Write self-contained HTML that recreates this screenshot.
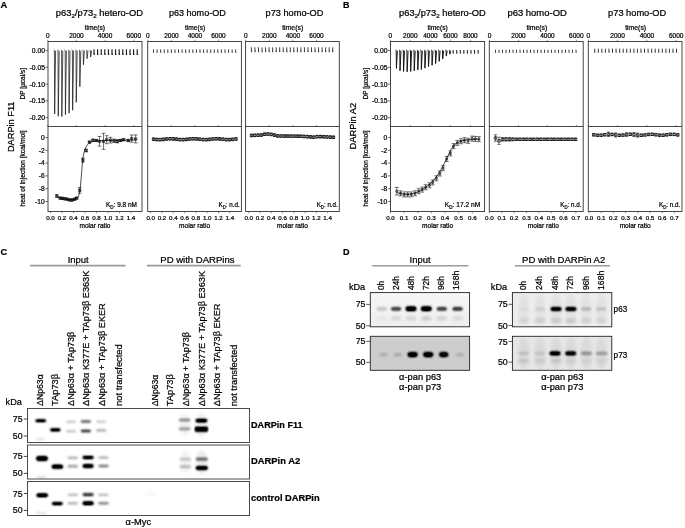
<!DOCTYPE html>
<html><head><meta charset="utf-8"><title>Figure</title>
<style>
html,body{margin:0;padding:0;background:#fff;width:685px;height:528px;overflow:hidden;}
svg{display:block;filter:grayscale(1);font-family:"Liberation Sans", sans-serif;}
text{stroke:#000;stroke-width:0.22px;}
</style></head><body>
<svg width="685" height="528" viewBox="0 0 685 528" font-family='"Liberation Sans", sans-serif'><defs>
<filter id="gall" x="0" y="0" width="100%" height="100%" filterUnits="userSpaceOnUse"><feGaussianBlur stdDeviation="0.0"/></filter>
<filter id="b1" x="-50%" y="-100%" width="200%" height="300%"><feGaussianBlur stdDeviation="0.8"/><feComponentTransfer><feFuncA type="linear" slope="1.45"/></feComponentTransfer></filter>
<filter id="bd" x="-50%" y="-100%" width="200%" height="300%"><feGaussianBlur stdDeviation="1.0 0.8"/><feComponentTransfer><feFuncA type="linear" slope="1.45"/></feComponentTransfer></filter>
<filter id="b2" x="-50%" y="-50%" width="200%" height="200%"><feGaussianBlur stdDeviation="1.6"/></filter>
<linearGradient id="gDin1" x1="0" y1="0" x2="0" y2="1"><stop offset="0" stop-color="#f6f6f6"/><stop offset="1" stop-color="#eeeeee"/></linearGradient>
</defs>
<g><rect x="0" y="0" width="685" height="528" fill="#fff"/>
<text x="0.60" y="7.80" font-size="9.4" font-weight="bold">A</text>
<text x="343.00" y="7.70" font-size="9.0" font-weight="bold">B</text>
<text x="0.60" y="255.00" font-size="9.2" font-weight="bold">C</text>
<text x="343.00" y="254.80" font-size="9.0" font-weight="bold">D</text>
<rect x="48.00" y="41.50" width="94.00" height="170.00" fill="none" stroke="#333" stroke-width="0.9"/>
<line x1="48.00" y1="126.50" x2="142.00" y2="126.50" stroke="#333" stroke-width="0.9"/>
<line x1="47.70" y1="41.50" x2="47.70" y2="39.70" stroke="#444" stroke-width="0.6"/>
<line x1="47.70" y1="126.50" x2="47.70" y2="125.00" stroke="#444" stroke-width="0.6"/>
<text x="47.70" y="38.00" font-size="6.5" text-anchor="middle">0</text>
<line x1="76.40" y1="41.50" x2="76.40" y2="39.70" stroke="#444" stroke-width="0.6"/>
<line x1="76.40" y1="126.50" x2="76.40" y2="125.00" stroke="#444" stroke-width="0.6"/>
<text x="76.40" y="38.00" font-size="6.5" text-anchor="middle">2000</text>
<line x1="105.10" y1="41.50" x2="105.10" y2="39.70" stroke="#444" stroke-width="0.6"/>
<line x1="105.10" y1="126.50" x2="105.10" y2="125.00" stroke="#444" stroke-width="0.6"/>
<text x="105.10" y="38.00" font-size="6.5" text-anchor="middle">4000</text>
<line x1="133.80" y1="41.50" x2="133.80" y2="39.70" stroke="#444" stroke-width="0.6"/>
<line x1="133.80" y1="126.50" x2="133.80" y2="125.00" stroke="#444" stroke-width="0.6"/>
<text x="133.80" y="38.00" font-size="6.5" text-anchor="middle">6000</text>
<text x="84.70" y="30.00" font-size="6.8" textLength="20.40" lengthAdjust="spacingAndGlyphs" stroke="#000" stroke-width="0.06">time(s)</text>
<text x="55.80" y="15.90" font-size="8.4" textLength="87.20" lengthAdjust="spacingAndGlyphs">p63<tspan font-size="5.6" dy="2">2</tspan><tspan dy="-2">/p73</tspan><tspan font-size="5.6" dy="2">2</tspan><tspan dy="-2"> hetero-OD</tspan></text>
<line x1="50.50" y1="211.50" x2="50.50" y2="213.30" stroke="#444" stroke-width="0.6"/>
<text x="50.50" y="220.00" font-size="6.2" text-anchor="middle">0.0</text>
<line x1="62.00" y1="211.50" x2="62.00" y2="213.30" stroke="#444" stroke-width="0.6"/>
<text x="62.00" y="220.00" font-size="6.2" text-anchor="middle">0.2</text>
<line x1="73.50" y1="211.50" x2="73.50" y2="213.30" stroke="#444" stroke-width="0.6"/>
<text x="73.50" y="220.00" font-size="6.2" text-anchor="middle">0.4</text>
<line x1="85.00" y1="211.50" x2="85.00" y2="213.30" stroke="#444" stroke-width="0.6"/>
<text x="85.00" y="220.00" font-size="6.2" text-anchor="middle">0.6</text>
<line x1="96.50" y1="211.50" x2="96.50" y2="213.30" stroke="#444" stroke-width="0.6"/>
<text x="96.50" y="220.00" font-size="6.2" text-anchor="middle">0.8</text>
<line x1="108.00" y1="211.50" x2="108.00" y2="213.30" stroke="#444" stroke-width="0.6"/>
<text x="108.00" y="220.00" font-size="6.2" text-anchor="middle">1.0</text>
<line x1="119.50" y1="211.50" x2="119.50" y2="213.30" stroke="#444" stroke-width="0.6"/>
<text x="119.50" y="220.00" font-size="6.2" text-anchor="middle">1.2</text>
<line x1="131.00" y1="211.50" x2="131.00" y2="213.30" stroke="#444" stroke-width="0.6"/>
<text x="131.00" y="220.00" font-size="6.2" text-anchor="middle">1.4</text>
<text x="95.00" y="227.90" font-size="6.5" textLength="31.00" lengthAdjust="spacingAndGlyphs" text-anchor="middle">molar ratio</text>
<line x1="45.40" y1="50.50" x2="48.00" y2="50.50" stroke="#333" stroke-width="0.7"/>
<text x="45.00" y="52.90" font-size="6.8" text-anchor="end">0.00</text>
<line x1="45.40" y1="67.30" x2="48.00" y2="67.30" stroke="#333" stroke-width="0.7"/>
<text x="45.00" y="69.70" font-size="6.8" text-anchor="end">-0.05</text>
<line x1="45.40" y1="84.10" x2="48.00" y2="84.10" stroke="#333" stroke-width="0.7"/>
<text x="45.00" y="86.50" font-size="6.8" text-anchor="end">-0.10</text>
<line x1="45.40" y1="100.90" x2="48.00" y2="100.90" stroke="#333" stroke-width="0.7"/>
<text x="45.00" y="103.30" font-size="6.8" text-anchor="end">-0.15</text>
<line x1="45.40" y1="117.70" x2="48.00" y2="117.70" stroke="#333" stroke-width="0.7"/>
<text x="45.00" y="120.10" font-size="6.8" text-anchor="end">-0.20</text>
<line x1="45.40" y1="137.50" x2="48.00" y2="137.50" stroke="#333" stroke-width="0.7"/>
<text x="44.60" y="139.80" font-size="6.6" text-anchor="end">0</text>
<line x1="45.40" y1="150.30" x2="48.00" y2="150.30" stroke="#333" stroke-width="0.7"/>
<text x="44.60" y="152.60" font-size="6.6" text-anchor="end">-2</text>
<line x1="45.40" y1="163.10" x2="48.00" y2="163.10" stroke="#333" stroke-width="0.7"/>
<text x="44.60" y="165.40" font-size="6.6" text-anchor="end">-4</text>
<line x1="45.40" y1="175.90" x2="48.00" y2="175.90" stroke="#333" stroke-width="0.7"/>
<text x="44.60" y="178.20" font-size="6.6" text-anchor="end">-6</text>
<line x1="45.40" y1="188.70" x2="48.00" y2="188.70" stroke="#333" stroke-width="0.7"/>
<text x="44.60" y="191.00" font-size="6.6" text-anchor="end">-8</text>
<line x1="45.40" y1="201.50" x2="48.00" y2="201.50" stroke="#333" stroke-width="0.7"/>
<text x="44.60" y="203.80" font-size="6.6" text-anchor="end">-10</text>
<path d="M53.70,49.90 L54.40,50.40 L54.65,114.00 L55.60,50.70 M57.30,49.90 L58.00,50.40 L58.25,116.20 L59.20,50.70 M60.90,49.90 L61.60,50.40 L61.85,116.50 L62.80,50.70 M64.50,49.90 L65.20,50.40 L65.45,114.70 L66.40,50.70 M68.10,49.90 L68.80,50.40 L69.05,113.20 L70.00,50.70 M71.70,49.90 L72.40,50.40 L72.65,110.20 L73.60,50.70 M75.30,49.90 L76.00,50.40 L76.25,102.30 L77.20,50.70 M78.90,49.90 L79.60,50.40 L79.85,86.70 L80.80,50.70 M82.50,49.90 L83.20,50.40 L83.45,64.70 L84.40,50.70 M86.10,49.90 L86.80,50.40 L87.05,58.70 L88.00,50.70 M89.70,49.90 L90.40,50.40 L90.65,57.00 L91.60,50.70" stroke="#1a1a1a" stroke-width="0.75" fill="none" stroke-linejoin="round"/>
<path d="M94.00,49.30 V55.00 M97.60,49.30 V55.00 M101.20,49.30 V55.00 M104.80,49.30 V55.00 M108.40,49.30 V55.00 M112.00,49.30 V55.00 M115.60,49.30 V55.00 M119.20,49.30 V55.00 M122.80,49.30 V55.00 M126.40,49.30 V55.00 M130.00,49.30 V55.00 M133.60,49.30 V55.00 M137.20,49.30 V55.00" stroke="#151515" stroke-width="1.1" fill="none"/>
<path d="M94.00,52.15 L95.10,54.40 L94.00,55.00 Z M97.60,52.15 L98.70,54.40 L97.60,55.00 Z M101.20,52.15 L102.30,54.40 L101.20,55.00 Z M104.80,52.15 L105.90,54.40 L104.80,55.00 Z M108.40,52.15 L109.50,54.40 L108.40,55.00 Z M112.00,52.15 L113.10,54.40 L112.00,55.00 Z M115.60,52.15 L116.70,54.40 L115.60,55.00 Z M119.20,52.15 L120.30,54.40 L119.20,55.00 Z M122.80,52.15 L123.90,54.40 L122.80,55.00 Z M126.40,52.15 L127.50,54.40 L126.40,55.00 Z M130.00,52.15 L131.10,54.40 L130.00,55.00 Z M133.60,52.15 L134.70,54.40 L133.60,55.00 Z M137.20,52.15 L138.30,54.40 L137.20,55.00 Z" stroke="none" stroke-width="0" fill="#151515" opacity="0.7"/>
<path d="M56.90,196.80 L62.00,198.60 L68.00,199.50 L74.00,199.60 L76.50,199.00 L78.50,196.50 L80.00,190.50 L81.20,178.00 L82.30,164.00 L83.40,155.00 L84.80,149.50 L86.50,146.00 L88.50,143.50 L91.00,142.00 L95.00,141.00 L100.00,140.60 L110.00,140.40 L136.00,140.10" stroke="#000" stroke-width="0.7" fill="none"/>
<path d="M55.80,194.90 h2.20 v2.20 h-2.20 Z M55.80,194.90 L58.00,197.10 M59.00,197.00 h2.20 v2.20 h-2.20 Z M59.00,197.00 L61.20,199.20 M61.40,197.30 h2.20 v2.20 h-2.20 Z M61.40,197.30 L63.60,199.50 M63.80,197.70 h2.20 v2.20 h-2.20 Z M63.80,197.70 L66.00,199.90 M66.20,198.10 h2.20 v2.20 h-2.20 Z M66.20,198.10 L68.40,200.30 M68.60,198.90 h2.20 v2.20 h-2.20 Z M68.60,198.90 L70.80,201.10 M71.00,198.90 h2.20 v2.20 h-2.20 Z M71.00,198.90 L73.20,201.10 M73.50,198.10 h2.20 v2.20 h-2.20 Z M73.50,198.10 L75.70,200.30 M75.50,197.00 h2.20 v2.20 h-2.20 Z M75.50,197.00 L77.70,199.20 M78.60,189.30 h2.20 v2.20 h-2.20 Z M78.60,189.30 L80.80,191.50 M81.80,159.00 h2.20 v2.20 h-2.20 Z M81.80,159.00 L84.00,161.20 M85.00,149.40 h2.20 v2.20 h-2.20 Z M85.00,149.40 L87.20,151.60 M88.40,141.00 h2.20 v2.20 h-2.20 Z M88.40,141.00 L90.60,143.20 M91.90,139.10 h2.20 v2.20 h-2.20 Z M91.90,139.10 L94.10,141.30 M95.20,139.40 h2.20 v2.20 h-2.20 Z M95.20,139.40 L97.40,141.60 M98.40,140.20 h2.20 v2.20 h-2.20 Z M98.40,140.20 L100.60,142.40 M102.40,140.20 h2.20 v2.20 h-2.20 Z M102.40,140.20 L104.60,142.40 M105.60,138.60 h2.20 v2.20 h-2.20 Z M105.60,138.60 L107.80,140.80 M109.30,139.10 h2.20 v2.20 h-2.20 Z M109.30,139.10 L111.50,141.30 M112.90,139.70 h2.20 v2.20 h-2.20 Z M112.90,139.70 L115.10,141.90 M116.10,140.20 h2.20 v2.20 h-2.20 Z M116.10,140.20 L118.30,142.40 M119.30,139.40 h2.20 v2.20 h-2.20 Z M119.30,139.40 L121.50,141.60 M122.50,138.60 h2.20 v2.20 h-2.20 Z M122.50,138.60 L124.70,140.80 M127.10,139.40 h2.20 v2.20 h-2.20 Z M127.10,139.40 L129.30,141.60 M130.60,137.50 h2.20 v2.20 h-2.20 Z M130.60,137.50 L132.80,139.70 M134.60,137.80 h2.20 v2.20 h-2.20 Z M134.60,137.80 L136.80,140.00" stroke="#111" stroke-width="0.7" fill="none"/>
<path d="M56.90,194.70 V197.30 M55.00,194.70 h3.80 M55.00,197.30 h3.80 M60.10,197.10 V199.10 M58.20,197.10 h3.80 M58.20,199.10 h3.80 M62.50,197.40 V199.40 M60.60,197.40 h3.80 M60.60,199.40 h3.80 M64.90,197.80 V199.80 M63.00,197.80 h3.80 M63.00,199.80 h3.80 M67.30,198.20 V200.20 M65.40,198.20 h3.80 M65.40,200.20 h3.80 M69.70,199.00 V201.00 M67.80,199.00 h3.80 M67.80,201.00 h3.80 M72.10,199.00 V201.00 M70.20,199.00 h3.80 M70.20,201.00 h3.80 M74.60,198.20 V200.20 M72.70,198.20 h3.80 M72.70,200.20 h3.80 M76.60,197.10 V199.10 M74.70,197.10 h3.80 M74.70,199.10 h3.80 M79.70,187.60 V193.20 M77.80,187.60 h3.80 M77.80,193.20 h3.80 M82.90,158.10 V162.10 M81.00,158.10 h3.80 M81.00,162.10 h3.80 M86.10,149.20 V151.80 M84.20,149.20 h3.80 M84.20,151.80 h3.80 M89.50,141.10 V143.10 M87.60,141.10 h3.80 M87.60,143.10 h3.80 M93.00,139.20 V141.20 M91.10,139.20 h3.80 M91.10,141.20 h3.80 M96.30,139.50 V141.50 M94.40,139.50 h3.80 M94.40,141.50 h3.80 M99.50,136.50 V146.10 M97.60,136.50 h3.80 M97.60,146.10 h3.80 M103.50,133.30 V149.30 M101.60,133.30 h3.80 M101.60,149.30 h3.80 M106.70,135.70 V143.70 M104.80,135.70 h3.80 M104.80,143.70 h3.80 M110.40,137.40 V143.00 M108.50,137.40 h3.80 M108.50,143.00 h3.80 M114.00,139.20 V142.40 M112.10,139.20 h3.80 M112.10,142.40 h3.80 M117.20,139.70 V142.90 M115.30,139.70 h3.80 M115.30,142.90 h3.80 M120.40,139.50 V141.50 M118.50,139.50 h3.80 M118.50,141.50 h3.80 M123.60,138.70 V140.70 M121.70,138.70 h3.80 M121.70,140.70 h3.80 M128.20,139.50 V141.50 M126.30,139.50 h3.80 M126.30,141.50 h3.80 M131.70,135.00 V142.20 M129.80,135.00 h3.80 M129.80,142.20 h3.80 M135.70,134.90 V142.90 M133.80,134.90 h3.80 M133.80,142.90 h3.80" stroke="#000" stroke-width="0.55" fill="none"/>
<text x="106.00" y="207.00" font-size="6.6" textLength="31.00" lengthAdjust="spacingAndGlyphs">K<tspan font-size="4.6" dy="1.6">D</tspan><tspan dy="-1.6">: 9.8 nM</tspan></text>
<rect x="147.70" y="41.50" width="93.70" height="170.00" fill="none" stroke="#333" stroke-width="0.9"/>
<line x1="147.70" y1="126.50" x2="241.40" y2="126.50" stroke="#333" stroke-width="0.9"/>
<line x1="147.90" y1="41.50" x2="147.90" y2="39.70" stroke="#444" stroke-width="0.6"/>
<line x1="147.90" y1="126.50" x2="147.90" y2="125.00" stroke="#444" stroke-width="0.6"/>
<text x="147.90" y="38.00" font-size="6.5" text-anchor="middle">0</text>
<line x1="171.40" y1="41.50" x2="171.40" y2="39.70" stroke="#444" stroke-width="0.6"/>
<line x1="171.40" y1="126.50" x2="171.40" y2="125.00" stroke="#444" stroke-width="0.6"/>
<text x="171.40" y="38.00" font-size="6.5" text-anchor="middle">2000</text>
<line x1="194.90" y1="41.50" x2="194.90" y2="39.70" stroke="#444" stroke-width="0.6"/>
<line x1="194.90" y1="126.50" x2="194.90" y2="125.00" stroke="#444" stroke-width="0.6"/>
<text x="194.90" y="38.00" font-size="6.5" text-anchor="middle">4000</text>
<line x1="218.40" y1="41.50" x2="218.40" y2="39.70" stroke="#444" stroke-width="0.6"/>
<line x1="218.40" y1="126.50" x2="218.40" y2="125.00" stroke="#444" stroke-width="0.6"/>
<text x="218.40" y="38.00" font-size="6.5" text-anchor="middle">6000</text>
<text x="185.00" y="30.00" font-size="6.8" textLength="20.20" lengthAdjust="spacingAndGlyphs" stroke="#000" stroke-width="0.06">time(s)</text>
<text x="169.00" y="15.90" font-size="8.4" textLength="56.70" lengthAdjust="spacingAndGlyphs">p63 homo-OD</text>
<line x1="150.70" y1="211.50" x2="150.70" y2="213.30" stroke="#444" stroke-width="0.6"/>
<text x="150.70" y="220.00" font-size="6.2" text-anchor="middle">0.0</text>
<line x1="162.00" y1="211.50" x2="162.00" y2="213.30" stroke="#444" stroke-width="0.6"/>
<text x="162.00" y="220.00" font-size="6.2" text-anchor="middle">0.2</text>
<line x1="173.30" y1="211.50" x2="173.30" y2="213.30" stroke="#444" stroke-width="0.6"/>
<text x="173.30" y="220.00" font-size="6.2" text-anchor="middle">0.4</text>
<line x1="184.60" y1="211.50" x2="184.60" y2="213.30" stroke="#444" stroke-width="0.6"/>
<text x="184.60" y="220.00" font-size="6.2" text-anchor="middle">0.6</text>
<line x1="195.90" y1="211.50" x2="195.90" y2="213.30" stroke="#444" stroke-width="0.6"/>
<text x="195.90" y="220.00" font-size="6.2" text-anchor="middle">0.8</text>
<line x1="207.20" y1="211.50" x2="207.20" y2="213.30" stroke="#444" stroke-width="0.6"/>
<text x="207.20" y="220.00" font-size="6.2" text-anchor="middle">1.0</text>
<line x1="218.50" y1="211.50" x2="218.50" y2="213.30" stroke="#444" stroke-width="0.6"/>
<text x="218.50" y="220.00" font-size="6.2" text-anchor="middle">1.2</text>
<line x1="229.80" y1="211.50" x2="229.80" y2="213.30" stroke="#444" stroke-width="0.6"/>
<text x="229.80" y="220.00" font-size="6.2" text-anchor="middle">1.4</text>
<text x="194.55" y="227.90" font-size="6.5" textLength="31.00" lengthAdjust="spacingAndGlyphs" text-anchor="middle">molar ratio</text>
<path d="M153.50,49.40 V52.80 M157.07,49.40 V52.80 M160.65,49.40 V52.80 M164.22,49.40 V52.80 M167.80,49.40 V52.80 M171.37,49.40 V52.80 M174.94,49.40 V52.80 M178.52,49.40 V52.80 M182.09,49.40 V52.80 M185.67,49.40 V52.80 M189.24,49.40 V52.80 M192.81,49.40 V52.80 M196.39,49.40 V52.80 M199.96,49.40 V52.80 M203.54,49.40 V52.80 M207.11,49.40 V52.80 M210.68,49.40 V52.80 M214.26,49.40 V52.80 M217.83,49.40 V52.80 M221.41,49.40 V52.80 M224.98,49.40 V52.80 M228.55,49.40 V52.80 M232.13,49.40 V52.80 M235.70,49.40 V52.80" stroke="#2a2a2a" stroke-width="0.9" fill="none"/>
<path d="M153.50,51.10 L154.20,52.20 L153.50,52.80 Z M157.07,51.10 L157.77,52.20 L157.07,52.80 Z M160.65,51.10 L161.35,52.20 L160.65,52.80 Z M164.22,51.10 L164.92,52.20 L164.22,52.80 Z M167.80,51.10 L168.50,52.20 L167.80,52.80 Z M171.37,51.10 L172.07,52.20 L171.37,52.80 Z M174.94,51.10 L175.64,52.20 L174.94,52.80 Z M178.52,51.10 L179.22,52.20 L178.52,52.80 Z M182.09,51.10 L182.79,52.20 L182.09,52.80 Z M185.67,51.10 L186.37,52.20 L185.67,52.80 Z M189.24,51.10 L189.94,52.20 L189.24,52.80 Z M192.81,51.10 L193.51,52.20 L192.81,52.80 Z M196.39,51.10 L197.09,52.20 L196.39,52.80 Z M199.96,51.10 L200.66,52.20 L199.96,52.80 Z M203.54,51.10 L204.24,52.20 L203.54,52.80 Z M207.11,51.10 L207.81,52.20 L207.11,52.80 Z M210.68,51.10 L211.38,52.20 L210.68,52.80 Z M214.26,51.10 L214.96,52.20 L214.26,52.80 Z M217.83,51.10 L218.53,52.20 L217.83,52.80 Z M221.41,51.10 L222.11,52.20 L221.41,52.80 Z M224.98,51.10 L225.68,52.20 L224.98,52.80 Z M228.55,51.10 L229.25,52.20 L228.55,52.80 Z M232.13,51.10 L232.83,52.20 L232.13,52.80 Z M235.70,51.10 L236.40,52.20 L235.70,52.80 Z" stroke="none" stroke-width="0" fill="#2a2a2a" opacity="0.7"/>
<path d="M152.30,138.00 h2.40 v2.40 h-2.40 Z M155.60,138.35 h2.40 v2.40 h-2.40 Z M158.90,138.44 h2.40 v2.40 h-2.40 Z M162.20,138.19 h2.40 v2.40 h-2.40 Z M165.50,137.80 h2.40 v2.40 h-2.40 Z M168.80,137.56 h2.40 v2.40 h-2.40 Z M172.10,137.65 h2.40 v2.40 h-2.40 Z M175.40,138.01 h2.40 v2.40 h-2.40 Z M178.70,138.36 h2.40 v2.40 h-2.40 Z M182.00,138.44 h2.40 v2.40 h-2.40 Z M185.30,138.19 h2.40 v2.40 h-2.40 Z M188.60,137.79 h2.40 v2.40 h-2.40 Z M191.90,137.56 h2.40 v2.40 h-2.40 Z M195.20,137.66 h2.40 v2.40 h-2.40 Z M198.50,138.02 h2.40 v2.40 h-2.40 Z M201.80,138.36 h2.40 v2.40 h-2.40 Z M205.10,138.43 h2.40 v2.40 h-2.40 Z M208.40,138.18 h2.40 v2.40 h-2.40 Z M211.70,137.79 h2.40 v2.40 h-2.40 Z M215.00,137.56 h2.40 v2.40 h-2.40 Z M218.30,137.66 h2.40 v2.40 h-2.40 Z M221.60,138.02 h2.40 v2.40 h-2.40 Z M224.90,138.37 h2.40 v2.40 h-2.40 Z M228.20,138.43 h2.40 v2.40 h-2.40 Z M231.50,138.17 h2.40 v2.40 h-2.40 Z M234.80,137.78 h2.40 v2.40 h-2.40 Z" stroke="#111" stroke-width="0.85" fill="none"/>
<path d="M153.50,137.90 V140.50 M152.00,137.90 h3.00 M152.00,140.50 h3.00 M156.80,138.25 V140.85 M155.30,138.25 h3.00 M155.30,140.85 h3.00 M160.10,138.34 V140.94 M158.60,138.34 h3.00 M158.60,140.94 h3.00 M163.40,138.09 V140.69 M161.90,138.09 h3.00 M161.90,140.69 h3.00 M166.70,137.70 V140.30 M165.20,137.70 h3.00 M165.20,140.30 h3.00 M170.00,137.46 V140.06 M168.50,137.46 h3.00 M168.50,140.06 h3.00 M173.30,137.55 V140.15 M171.80,137.55 h3.00 M171.80,140.15 h3.00 M176.60,137.91 V140.51 M175.10,137.91 h3.00 M175.10,140.51 h3.00 M179.90,138.26 V140.86 M178.40,138.26 h3.00 M178.40,140.86 h3.00 M183.20,138.34 V140.94 M181.70,138.34 h3.00 M181.70,140.94 h3.00 M186.50,138.09 V140.69 M185.00,138.09 h3.00 M185.00,140.69 h3.00 M189.80,137.69 V140.29 M188.30,137.69 h3.00 M188.30,140.29 h3.00 M193.10,137.46 V140.06 M191.60,137.46 h3.00 M191.60,140.06 h3.00 M196.40,137.56 V140.16 M194.90,137.56 h3.00 M194.90,140.16 h3.00 M199.70,137.92 V140.52 M198.20,137.92 h3.00 M198.20,140.52 h3.00 M203.00,138.26 V140.86 M201.50,138.26 h3.00 M201.50,140.86 h3.00 M206.30,138.33 V140.93 M204.80,138.33 h3.00 M204.80,140.93 h3.00 M209.60,138.08 V140.68 M208.10,138.08 h3.00 M208.10,140.68 h3.00 M212.90,137.69 V140.29 M211.40,137.69 h3.00 M211.40,140.29 h3.00 M216.20,137.46 V140.06 M214.70,137.46 h3.00 M214.70,140.06 h3.00 M219.50,137.56 V140.16 M218.00,137.56 h3.00 M218.00,140.16 h3.00 M222.80,137.92 V140.52 M221.30,137.92 h3.00 M221.30,140.52 h3.00 M226.10,138.27 V140.87 M224.60,138.27 h3.00 M224.60,140.87 h3.00 M229.40,138.33 V140.93 M227.90,138.33 h3.00 M227.90,140.93 h3.00 M232.70,138.07 V140.67 M231.20,138.07 h3.00 M231.20,140.67 h3.00 M236.00,137.68 V140.28 M234.50,137.68 h3.00 M234.50,140.28 h3.00" stroke="#000" stroke-width="0.55" fill="none"/>
<text x="218.50" y="207.00" font-size="6.6" textLength="21.20" lengthAdjust="spacingAndGlyphs">K<tspan font-size="4.6" dy="1.6">D</tspan><tspan dy="-1.6">: n.d.</tspan></text>
<rect x="245.60" y="41.50" width="93.70" height="170.00" fill="none" stroke="#333" stroke-width="0.9"/>
<line x1="245.60" y1="126.50" x2="339.30" y2="126.50" stroke="#333" stroke-width="0.9"/>
<line x1="245.70" y1="41.50" x2="245.70" y2="39.70" stroke="#444" stroke-width="0.6"/>
<line x1="245.70" y1="126.50" x2="245.70" y2="125.00" stroke="#444" stroke-width="0.6"/>
<text x="245.70" y="38.00" font-size="6.5" text-anchor="middle">0</text>
<line x1="269.30" y1="41.50" x2="269.30" y2="39.70" stroke="#444" stroke-width="0.6"/>
<line x1="269.30" y1="126.50" x2="269.30" y2="125.00" stroke="#444" stroke-width="0.6"/>
<text x="269.30" y="38.00" font-size="6.5" text-anchor="middle">2000</text>
<line x1="292.90" y1="41.50" x2="292.90" y2="39.70" stroke="#444" stroke-width="0.6"/>
<line x1="292.90" y1="126.50" x2="292.90" y2="125.00" stroke="#444" stroke-width="0.6"/>
<text x="292.90" y="38.00" font-size="6.5" text-anchor="middle">4000</text>
<line x1="316.50" y1="41.50" x2="316.50" y2="39.70" stroke="#444" stroke-width="0.6"/>
<line x1="316.50" y1="126.50" x2="316.50" y2="125.00" stroke="#444" stroke-width="0.6"/>
<text x="316.50" y="38.00" font-size="6.5" text-anchor="middle">6000</text>
<text x="282.20" y="30.00" font-size="6.8" textLength="21.00" lengthAdjust="spacingAndGlyphs" stroke="#000" stroke-width="0.06">time(s)</text>
<text x="265.60" y="15.90" font-size="8.4" textLength="57.80" lengthAdjust="spacingAndGlyphs">p73 homo-OD</text>
<line x1="248.70" y1="211.50" x2="248.70" y2="213.30" stroke="#444" stroke-width="0.6"/>
<text x="248.70" y="220.00" font-size="6.2" text-anchor="middle">0.0</text>
<line x1="259.98" y1="211.50" x2="259.98" y2="213.30" stroke="#444" stroke-width="0.6"/>
<text x="259.98" y="220.00" font-size="6.2" text-anchor="middle">0.2</text>
<line x1="271.26" y1="211.50" x2="271.26" y2="213.30" stroke="#444" stroke-width="0.6"/>
<text x="271.26" y="220.00" font-size="6.2" text-anchor="middle">0.4</text>
<line x1="282.54" y1="211.50" x2="282.54" y2="213.30" stroke="#444" stroke-width="0.6"/>
<text x="282.54" y="220.00" font-size="6.2" text-anchor="middle">0.6</text>
<line x1="293.82" y1="211.50" x2="293.82" y2="213.30" stroke="#444" stroke-width="0.6"/>
<text x="293.82" y="220.00" font-size="6.2" text-anchor="middle">0.8</text>
<line x1="305.10" y1="211.50" x2="305.10" y2="213.30" stroke="#444" stroke-width="0.6"/>
<text x="305.10" y="220.00" font-size="6.2" text-anchor="middle">1.0</text>
<line x1="316.38" y1="211.50" x2="316.38" y2="213.30" stroke="#444" stroke-width="0.6"/>
<text x="316.38" y="220.00" font-size="6.2" text-anchor="middle">1.2</text>
<line x1="327.66" y1="211.50" x2="327.66" y2="213.30" stroke="#444" stroke-width="0.6"/>
<text x="327.66" y="220.00" font-size="6.2" text-anchor="middle">1.4</text>
<text x="292.45" y="227.90" font-size="6.5" textLength="31.00" lengthAdjust="spacingAndGlyphs" text-anchor="middle">molar ratio</text>
<path d="M251.40,47.30 V52.20 M254.94,47.30 V52.20 M258.47,47.30 V52.20 M262.00,47.30 V52.20 M265.54,47.30 V52.20 M269.07,47.30 V52.20 M272.61,47.30 V52.20 M276.14,47.30 V52.20 M279.68,47.30 V52.20 M283.22,47.30 V52.20 M286.75,47.30 V52.20 M290.29,47.30 V52.20 M293.82,47.30 V52.20 M297.36,47.30 V52.20 M300.89,47.30 V52.20 M304.43,47.30 V52.20 M307.96,47.30 V52.20 M311.50,47.30 V52.20 M315.03,47.30 V52.20 M318.56,47.30 V52.20 M322.10,47.30 V52.20 M325.63,47.30 V52.20 M329.17,47.30 V52.20 M332.71,47.30 V52.20" stroke="#2a2a2a" stroke-width="0.9" fill="none"/>
<path d="M251.40,49.75 L252.30,51.60 L251.40,52.20 Z M254.94,49.75 L255.84,51.60 L254.94,52.20 Z M258.47,49.75 L259.37,51.60 L258.47,52.20 Z M262.00,49.75 L262.90,51.60 L262.00,52.20 Z M265.54,49.75 L266.44,51.60 L265.54,52.20 Z M269.07,49.75 L269.97,51.60 L269.07,52.20 Z M272.61,49.75 L273.51,51.60 L272.61,52.20 Z M276.14,49.75 L277.04,51.60 L276.14,52.20 Z M279.68,49.75 L280.58,51.60 L279.68,52.20 Z M283.22,49.75 L284.12,51.60 L283.22,52.20 Z M286.75,49.75 L287.65,51.60 L286.75,52.20 Z M290.29,49.75 L291.19,51.60 L290.29,52.20 Z M293.82,49.75 L294.72,51.60 L293.82,52.20 Z M297.36,49.75 L298.25,51.60 L297.36,52.20 Z M300.89,49.75 L301.79,51.60 L300.89,52.20 Z M304.43,49.75 L305.32,51.60 L304.43,52.20 Z M307.96,49.75 L308.86,51.60 L307.96,52.20 Z M311.50,49.75 L312.39,51.60 L311.50,52.20 Z M315.03,49.75 L315.93,51.60 L315.03,52.20 Z M318.56,49.75 L319.46,51.60 L318.56,52.20 Z M322.10,49.75 L323.00,51.60 L322.10,52.20 Z M325.63,49.75 L326.53,51.60 L325.63,52.20 Z M329.17,49.75 L330.07,51.60 L329.17,52.20 Z M332.71,49.75 L333.61,51.60 L332.71,52.20 Z" stroke="none" stroke-width="0" fill="#2a2a2a" opacity="0.7"/>
<path d="M250.30,134.28 h2.40 v2.40 h-2.40 Z M253.58,134.13 h2.40 v2.40 h-2.40 Z M256.86,133.98 h2.40 v2.40 h-2.40 Z M260.14,133.83 h2.40 v2.40 h-2.40 Z M263.42,133.01 h2.40 v2.40 h-2.40 Z M266.70,132.82 h2.40 v2.40 h-2.40 Z M269.98,133.20 h2.40 v2.40 h-2.40 Z M273.26,133.92 h2.40 v2.40 h-2.40 Z M276.54,134.74 h2.40 v2.40 h-2.40 Z M279.82,134.83 h2.40 v2.40 h-2.40 Z M283.10,134.86 h2.40 v2.40 h-2.40 Z M286.38,134.89 h2.40 v2.40 h-2.40 Z M289.66,134.92 h2.40 v2.40 h-2.40 Z M292.94,134.95 h2.40 v2.40 h-2.40 Z M296.22,134.98 h2.40 v2.40 h-2.40 Z M299.50,135.04 h2.40 v2.40 h-2.40 Z M302.78,135.24 h2.40 v2.40 h-2.40 Z M306.06,135.44 h2.40 v2.40 h-2.40 Z M309.34,135.69 h2.40 v2.40 h-2.40 Z M312.62,135.97 h2.40 v2.40 h-2.40 Z M315.90,135.44 h2.40 v2.40 h-2.40 Z M319.18,135.40 h2.40 v2.40 h-2.40 Z M322.46,135.54 h2.40 v2.40 h-2.40 Z M325.74,135.72 h2.40 v2.40 h-2.40 Z M329.02,135.93 h2.40 v2.40 h-2.40 Z M332.30,136.10 h2.40 v2.40 h-2.40 Z" stroke="#111" stroke-width="0.85" fill="none"/>
<path d="M251.50,134.18 V136.78 M250.00,134.18 h3.00 M250.00,136.78 h3.00 M254.78,134.03 V136.63 M253.28,134.03 h3.00 M253.28,136.63 h3.00 M258.06,133.88 V136.48 M256.56,133.88 h3.00 M256.56,136.48 h3.00 M261.34,133.73 V136.33 M259.84,133.73 h3.00 M259.84,136.33 h3.00 M264.62,132.91 V135.51 M263.12,132.91 h3.00 M263.12,135.51 h3.00 M267.90,132.72 V135.32 M266.40,132.72 h3.00 M266.40,135.32 h3.00 M271.18,133.10 V135.70 M269.68,133.10 h3.00 M269.68,135.70 h3.00 M274.46,133.81 V136.42 M272.96,133.81 h3.00 M272.96,136.42 h3.00 M277.74,134.63 V137.24 M276.24,134.63 h3.00 M276.24,137.24 h3.00 M281.02,134.73 V137.33 M279.52,134.73 h3.00 M279.52,137.33 h3.00 M284.30,134.76 V137.36 M282.80,134.76 h3.00 M282.80,137.36 h3.00 M287.58,134.79 V137.39 M286.08,134.79 h3.00 M286.08,137.39 h3.00 M290.86,134.82 V137.42 M289.36,134.82 h3.00 M289.36,137.42 h3.00 M294.14,134.85 V137.45 M292.64,134.85 h3.00 M292.64,137.45 h3.00 M297.42,134.88 V137.48 M295.92,134.88 h3.00 M295.92,137.48 h3.00 M300.70,134.94 V137.54 M299.20,134.94 h3.00 M299.20,137.54 h3.00 M303.98,135.14 V137.74 M302.48,135.14 h3.00 M302.48,137.74 h3.00 M307.26,135.34 V137.94 M305.76,135.34 h3.00 M305.76,137.94 h3.00 M310.54,135.59 V138.19 M309.04,135.59 h3.00 M309.04,138.19 h3.00 M313.82,135.87 V138.47 M312.32,135.87 h3.00 M312.32,138.47 h3.00 M317.10,135.34 V137.94 M315.60,135.34 h3.00 M315.60,137.94 h3.00 M320.38,135.30 V137.90 M318.88,135.30 h3.00 M318.88,137.90 h3.00 M323.66,135.44 V138.04 M322.16,135.44 h3.00 M322.16,138.04 h3.00 M326.94,135.62 V138.22 M325.44,135.62 h3.00 M325.44,138.22 h3.00 M330.22,135.83 V138.43 M328.72,135.83 h3.00 M328.72,138.43 h3.00 M333.50,136.00 V138.60 M332.00,136.00 h3.00 M332.00,138.60 h3.00" stroke="#000" stroke-width="0.55" fill="none"/>
<text x="316.70" y="207.00" font-size="6.6" textLength="21.10" lengthAdjust="spacingAndGlyphs">K<tspan font-size="4.6" dy="1.6">D</tspan><tspan dy="-1.6">: n.d.</tspan></text>
<rect x="390.50" y="41.50" width="94.10" height="170.00" fill="none" stroke="#333" stroke-width="0.9"/>
<line x1="390.50" y1="126.50" x2="484.60" y2="126.50" stroke="#333" stroke-width="0.9"/>
<line x1="390.30" y1="41.50" x2="390.30" y2="39.70" stroke="#444" stroke-width="0.6"/>
<line x1="390.30" y1="126.50" x2="390.30" y2="125.00" stroke="#444" stroke-width="0.6"/>
<text x="390.30" y="38.00" font-size="6.5" text-anchor="middle">0</text>
<line x1="410.35" y1="41.50" x2="410.35" y2="39.70" stroke="#444" stroke-width="0.6"/>
<line x1="410.35" y1="126.50" x2="410.35" y2="125.00" stroke="#444" stroke-width="0.6"/>
<text x="410.35" y="38.00" font-size="6.5" text-anchor="middle">2000</text>
<line x1="430.40" y1="41.50" x2="430.40" y2="39.70" stroke="#444" stroke-width="0.6"/>
<line x1="430.40" y1="126.50" x2="430.40" y2="125.00" stroke="#444" stroke-width="0.6"/>
<text x="430.40" y="38.00" font-size="6.5" text-anchor="middle">4000</text>
<line x1="450.45" y1="41.50" x2="450.45" y2="39.70" stroke="#444" stroke-width="0.6"/>
<line x1="450.45" y1="126.50" x2="450.45" y2="125.00" stroke="#444" stroke-width="0.6"/>
<text x="450.45" y="38.00" font-size="6.5" text-anchor="middle">6000</text>
<line x1="470.50" y1="41.50" x2="470.50" y2="39.70" stroke="#444" stroke-width="0.6"/>
<line x1="470.50" y1="126.50" x2="470.50" y2="125.00" stroke="#444" stroke-width="0.6"/>
<text x="470.50" y="38.00" font-size="6.5" text-anchor="middle">8000</text>
<text x="427.50" y="30.00" font-size="6.8" textLength="20.20" lengthAdjust="spacingAndGlyphs" stroke="#000" stroke-width="0.06">time(s)</text>
<text x="399.10" y="15.90" font-size="8.4" textLength="86.70" lengthAdjust="spacingAndGlyphs">p63<tspan font-size="5.6" dy="2">2</tspan><tspan dy="-2">/p73</tspan><tspan font-size="5.6" dy="2">2</tspan><tspan dy="-2"> hetero-OD</tspan></text>
<line x1="390.50" y1="211.50" x2="390.50" y2="213.30" stroke="#444" stroke-width="0.6"/>
<text x="390.50" y="220.00" font-size="6.2" text-anchor="middle">0.0</text>
<line x1="404.13" y1="211.50" x2="404.13" y2="213.30" stroke="#444" stroke-width="0.6"/>
<text x="404.13" y="220.00" font-size="6.2" text-anchor="middle">0.1</text>
<line x1="417.76" y1="211.50" x2="417.76" y2="213.30" stroke="#444" stroke-width="0.6"/>
<text x="417.76" y="220.00" font-size="6.2" text-anchor="middle">0.2</text>
<line x1="431.39" y1="211.50" x2="431.39" y2="213.30" stroke="#444" stroke-width="0.6"/>
<text x="431.39" y="220.00" font-size="6.2" text-anchor="middle">0.3</text>
<line x1="445.02" y1="211.50" x2="445.02" y2="213.30" stroke="#444" stroke-width="0.6"/>
<text x="445.02" y="220.00" font-size="6.2" text-anchor="middle">0.4</text>
<line x1="458.65" y1="211.50" x2="458.65" y2="213.30" stroke="#444" stroke-width="0.6"/>
<text x="458.65" y="220.00" font-size="6.2" text-anchor="middle">0.5</text>
<line x1="472.28" y1="211.50" x2="472.28" y2="213.30" stroke="#444" stroke-width="0.6"/>
<text x="472.28" y="220.00" font-size="6.2" text-anchor="middle">0.6</text>
<text x="437.55" y="227.90" font-size="6.5" textLength="31.00" lengthAdjust="spacingAndGlyphs" text-anchor="middle">molar ratio</text>
<line x1="387.90" y1="50.50" x2="390.50" y2="50.50" stroke="#333" stroke-width="0.7"/>
<text x="387.50" y="52.90" font-size="6.8" text-anchor="end">0.00</text>
<line x1="387.90" y1="67.30" x2="390.50" y2="67.30" stroke="#333" stroke-width="0.7"/>
<text x="387.50" y="69.70" font-size="6.8" text-anchor="end">-0.05</text>
<line x1="387.90" y1="84.10" x2="390.50" y2="84.10" stroke="#333" stroke-width="0.7"/>
<text x="387.50" y="86.50" font-size="6.8" text-anchor="end">-0.10</text>
<line x1="387.90" y1="100.90" x2="390.50" y2="100.90" stroke="#333" stroke-width="0.7"/>
<text x="387.50" y="103.30" font-size="6.8" text-anchor="end">-0.15</text>
<line x1="387.90" y1="117.70" x2="390.50" y2="117.70" stroke="#333" stroke-width="0.7"/>
<text x="387.50" y="120.10" font-size="6.8" text-anchor="end">-0.20</text>
<line x1="387.90" y1="137.50" x2="390.50" y2="137.50" stroke="#333" stroke-width="0.7"/>
<text x="387.10" y="139.80" font-size="6.6" text-anchor="end">0</text>
<line x1="387.90" y1="150.30" x2="390.50" y2="150.30" stroke="#333" stroke-width="0.7"/>
<text x="387.10" y="152.60" font-size="6.6" text-anchor="end">-2</text>
<line x1="387.90" y1="163.10" x2="390.50" y2="163.10" stroke="#333" stroke-width="0.7"/>
<text x="387.10" y="165.40" font-size="6.6" text-anchor="end">-4</text>
<line x1="387.90" y1="175.90" x2="390.50" y2="175.90" stroke="#333" stroke-width="0.7"/>
<text x="387.10" y="178.20" font-size="6.6" text-anchor="end">-6</text>
<line x1="387.90" y1="188.70" x2="390.50" y2="188.70" stroke="#333" stroke-width="0.7"/>
<text x="387.10" y="191.00" font-size="6.6" text-anchor="end">-8</text>
<line x1="387.90" y1="201.50" x2="390.50" y2="201.50" stroke="#333" stroke-width="0.7"/>
<text x="387.10" y="203.80" font-size="6.6" text-anchor="end">-10</text>
<path d="M395.50,49.90 L396.20,50.40 L396.45,68.40 L397.40,50.70 M399.06,49.90 L399.76,50.40 L400.01,70.80 L400.96,50.70 M402.62,49.90 L403.32,50.40 L403.57,71.50 L404.52,50.70 M406.18,49.90 L406.88,50.40 L407.13,71.80 L408.08,50.70 M409.74,49.90 L410.44,50.40 L410.69,71.50 L411.64,50.70 M413.30,49.90 L414.00,50.40 L414.25,70.80 L415.20,50.70 M416.86,49.90 L417.56,50.40 L417.81,70.00 L418.76,50.70 M420.42,49.90 L421.12,50.40 L421.37,69.50 L422.32,50.70 M423.98,49.90 L424.68,50.40 L424.93,68.10 L425.88,50.70 M427.54,49.90 L428.24,50.40 L428.49,66.70 L429.44,50.70 M431.10,49.90 L431.80,50.40 L432.05,65.30 L433.00,50.70 M434.66,49.90 L435.36,50.40 L435.61,63.50 L436.56,50.70 M438.22,49.90 L438.92,50.40 L439.17,61.40 L440.12,50.70 M441.78,49.90 L442.48,50.40 L442.73,58.90 L443.68,50.70 M445.34,49.90 L446.04,50.40 L446.29,56.10 L447.24,50.70 M448.90,49.90 L449.60,50.40 L449.85,54.20 L450.80,50.70" stroke="#111" stroke-width="0.95" fill="none" stroke-linejoin="round"/>
<path d="M453.16,50.00 V53.60 M456.72,50.00 V53.60 M460.28,50.00 V53.60 M463.84,50.00 V53.60 M467.40,50.00 V53.60 M470.96,50.00 V53.60 M474.52,50.00 V53.60 M478.08,50.00 V53.60" stroke="#1a1a1a" stroke-width="1.0" fill="none"/>
<path d="M453.16,51.80 L453.96,53.00 L453.16,53.60 Z M456.72,51.80 L457.52,53.00 L456.72,53.60 Z M460.28,51.80 L461.08,53.00 L460.28,53.60 Z M463.84,51.80 L464.64,53.00 L463.84,53.60 Z M467.40,51.80 L468.20,53.00 L467.40,53.60 Z M470.96,51.80 L471.76,53.00 L470.96,53.60 Z M474.52,51.80 L475.32,53.00 L474.52,53.60 Z M478.08,51.80 L478.88,53.00 L478.08,53.60 Z" stroke="none" stroke-width="0" fill="#1a1a1a" opacity="0.7"/>
<path d="M396.80,192.50 L401.00,193.80 L405.00,194.30 L409.00,194.30 L413.00,193.70 L417.00,192.30 L421.00,190.30 L425.00,187.80 L429.00,184.80 L433.00,181.00 L437.00,176.00 L441.00,169.50 L445.00,162.00 L448.00,155.50 L451.00,149.50 L454.00,145.30 L457.00,142.80 L461.00,141.00 L466.00,140.00 L472.00,139.40 L479.00,139.10" stroke="#000" stroke-width="0.7" fill="none"/>
<path d="M395.90,190.30 h1.80 v1.80 h-1.80 Z M399.60,192.40 h1.80 v1.80 h-1.80 Z M403.30,193.50 h1.80 v1.80 h-1.80 Z M406.80,193.50 h1.80 v1.80 h-1.80 Z M410.40,193.50 h1.80 v1.80 h-1.80 Z M414.10,192.40 h1.80 v1.80 h-1.80 Z M417.80,190.30 h1.80 v1.80 h-1.80 Z M421.30,188.70 h1.80 v1.80 h-1.80 Z M424.80,186.30 h1.80 v1.80 h-1.80 Z M428.60,184.40 h1.80 v1.80 h-1.80 Z M431.80,181.50 h1.80 v1.80 h-1.80 Z M435.50,177.40 h1.80 v1.80 h-1.80 Z M439.00,172.60 h1.80 v1.80 h-1.80 Z M442.20,167.30 h1.80 v1.80 h-1.80 Z M445.80,158.10 h1.80 v1.80 h-1.80 Z M449.50,152.50 h1.80 v1.80 h-1.80 Z M452.70,145.20 h1.80 v1.80 h-1.80 Z M456.40,142.00 h1.80 v1.80 h-1.80 Z M460.00,140.40 h1.80 v1.80 h-1.80 Z M463.50,139.30 h1.80 v1.80 h-1.80 Z M467.20,139.90 h1.80 v1.80 h-1.80 Z M471.20,137.70 h1.80 v1.80 h-1.80 Z M474.40,138.00 h1.80 v1.80 h-1.80 Z M478.00,138.30 h1.80 v1.80 h-1.80 Z" stroke="#111" stroke-width="0.7" fill="none"/>
<path d="M396.80,187.40 V195.00 M394.80,187.40 h4.00 M394.80,195.00 h4.00 M400.50,190.80 V195.80 M398.50,190.80 h4.00 M398.50,195.80 h4.00 M404.20,191.90 V196.90 M402.20,191.90 h4.00 M402.20,196.90 h4.00 M407.70,191.90 V196.90 M405.70,191.90 h4.00 M405.70,196.90 h4.00 M411.30,191.90 V196.90 M409.30,191.90 h4.00 M409.30,196.90 h4.00 M415.00,190.80 V195.80 M413.00,190.80 h4.00 M413.00,195.80 h4.00 M418.70,188.70 V193.70 M416.70,188.70 h4.00 M416.70,193.70 h4.00 M422.20,187.10 V192.10 M420.20,187.10 h4.00 M420.20,192.10 h4.00 M425.70,184.70 V189.70 M423.70,184.70 h4.00 M423.70,189.70 h4.00 M429.50,182.80 V187.80 M427.50,182.80 h4.00 M427.50,187.80 h4.00 M432.70,179.90 V184.90 M430.70,179.90 h4.00 M430.70,184.90 h4.00 M436.40,175.80 V180.80 M434.40,175.80 h4.00 M434.40,180.80 h4.00 M439.90,171.00 V176.00 M437.90,171.00 h4.00 M437.90,176.00 h4.00 M443.10,165.70 V170.70 M441.10,165.70 h4.00 M441.10,170.70 h4.00 M446.70,156.50 V161.50 M444.70,156.50 h4.00 M444.70,161.50 h4.00 M450.40,150.90 V155.90 M448.40,150.90 h4.00 M448.40,155.90 h4.00 M453.60,143.60 V148.60 M451.60,143.60 h4.00 M451.60,148.60 h4.00 M457.30,140.40 V145.40 M455.30,140.40 h4.00 M455.30,145.40 h4.00 M460.90,138.80 V143.80 M458.90,138.80 h4.00 M458.90,143.80 h4.00 M464.40,137.70 V142.70 M462.40,137.70 h4.00 M462.40,142.70 h4.00 M468.10,138.30 V143.30 M466.10,138.30 h4.00 M466.10,143.30 h4.00 M472.10,136.10 V141.10 M470.10,136.10 h4.00 M470.10,141.10 h4.00 M475.30,136.40 V141.40 M473.30,136.40 h4.00 M473.30,141.40 h4.00 M478.90,136.70 V141.70 M476.90,136.70 h4.00 M476.90,141.70 h4.00" stroke="#000" stroke-width="0.55" fill="none"/>
<text x="444.80" y="207.00" font-size="6.6" textLength="35.40" lengthAdjust="spacingAndGlyphs">K<tspan font-size="4.6" dy="1.6">D</tspan><tspan dy="-1.6">: 17.2 nM</tspan></text>
<rect x="489.30" y="41.50" width="93.90" height="170.00" fill="none" stroke="#333" stroke-width="0.9"/>
<line x1="489.30" y1="126.50" x2="583.20" y2="126.50" stroke="#333" stroke-width="0.9"/>
<line x1="489.60" y1="41.50" x2="489.60" y2="39.70" stroke="#444" stroke-width="0.6"/>
<line x1="489.60" y1="126.50" x2="489.60" y2="125.00" stroke="#444" stroke-width="0.6"/>
<text x="489.60" y="38.00" font-size="6.5" text-anchor="middle">0</text>
<line x1="518.50" y1="41.50" x2="518.50" y2="39.70" stroke="#444" stroke-width="0.6"/>
<line x1="518.50" y1="126.50" x2="518.50" y2="125.00" stroke="#444" stroke-width="0.6"/>
<text x="518.50" y="38.00" font-size="6.5" text-anchor="middle">2000</text>
<line x1="547.40" y1="41.50" x2="547.40" y2="39.70" stroke="#444" stroke-width="0.6"/>
<line x1="547.40" y1="126.50" x2="547.40" y2="125.00" stroke="#444" stroke-width="0.6"/>
<text x="547.40" y="38.00" font-size="6.5" text-anchor="middle">4000</text>
<line x1="576.30" y1="41.50" x2="576.30" y2="39.70" stroke="#444" stroke-width="0.6"/>
<line x1="576.30" y1="126.50" x2="576.30" y2="125.00" stroke="#444" stroke-width="0.6"/>
<text x="576.30" y="38.00" font-size="6.5" text-anchor="middle">6000</text>
<text x="526.40" y="30.00" font-size="6.8" textLength="20.90" lengthAdjust="spacingAndGlyphs" stroke="#000" stroke-width="0.06">time(s)</text>
<text x="507.50" y="15.90" font-size="8.4" textLength="59.30" lengthAdjust="spacingAndGlyphs">p63 homo-OD</text>
<line x1="489.40" y1="211.50" x2="489.40" y2="213.30" stroke="#444" stroke-width="0.6"/>
<text x="489.40" y="220.00" font-size="6.2" text-anchor="middle">0.0</text>
<line x1="501.75" y1="211.50" x2="501.75" y2="213.30" stroke="#444" stroke-width="0.6"/>
<text x="501.75" y="220.00" font-size="6.2" text-anchor="middle">0.1</text>
<line x1="514.10" y1="211.50" x2="514.10" y2="213.30" stroke="#444" stroke-width="0.6"/>
<text x="514.10" y="220.00" font-size="6.2" text-anchor="middle">0.2</text>
<line x1="526.45" y1="211.50" x2="526.45" y2="213.30" stroke="#444" stroke-width="0.6"/>
<text x="526.45" y="220.00" font-size="6.2" text-anchor="middle">0.3</text>
<line x1="538.80" y1="211.50" x2="538.80" y2="213.30" stroke="#444" stroke-width="0.6"/>
<text x="538.80" y="220.00" font-size="6.2" text-anchor="middle">0.4</text>
<line x1="551.15" y1="211.50" x2="551.15" y2="213.30" stroke="#444" stroke-width="0.6"/>
<text x="551.15" y="220.00" font-size="6.2" text-anchor="middle">0.5</text>
<line x1="563.50" y1="211.50" x2="563.50" y2="213.30" stroke="#444" stroke-width="0.6"/>
<text x="563.50" y="220.00" font-size="6.2" text-anchor="middle">0.6</text>
<line x1="575.85" y1="211.50" x2="575.85" y2="213.30" stroke="#444" stroke-width="0.6"/>
<text x="575.85" y="220.00" font-size="6.2" text-anchor="middle">0.7</text>
<text x="543.30" y="227.90" font-size="6.5" textLength="31.00" lengthAdjust="spacingAndGlyphs" text-anchor="middle">molar ratio</text>
<path d="M495.50,49.70 V52.80 M499.00,49.70 V52.80 M502.50,49.70 V52.80 M506.00,49.70 V52.80 M509.50,49.70 V52.80 M513.00,49.70 V52.80 M516.50,49.70 V52.80 M520.00,49.70 V52.80 M523.50,49.70 V52.80 M527.00,49.70 V52.80 M530.50,49.70 V52.80 M534.00,49.70 V52.80 M537.50,49.70 V52.80 M541.00,49.70 V52.80 M544.50,49.70 V52.80 M548.00,49.70 V52.80 M551.50,49.70 V52.80 M555.00,49.70 V52.80 M558.50,49.70 V52.80 M562.00,49.70 V52.80 M565.50,49.70 V52.80 M569.00,49.70 V52.80 M572.50,49.70 V52.80 M576.00,49.70 V52.80" stroke="#2a2a2a" stroke-width="0.9" fill="none"/>
<path d="M495.50,51.25 L496.20,52.20 L495.50,52.80 Z M499.00,51.25 L499.70,52.20 L499.00,52.80 Z M502.50,51.25 L503.20,52.20 L502.50,52.80 Z M506.00,51.25 L506.70,52.20 L506.00,52.80 Z M509.50,51.25 L510.20,52.20 L509.50,52.80 Z M513.00,51.25 L513.70,52.20 L513.00,52.80 Z M516.50,51.25 L517.20,52.20 L516.50,52.80 Z M520.00,51.25 L520.70,52.20 L520.00,52.80 Z M523.50,51.25 L524.20,52.20 L523.50,52.80 Z M527.00,51.25 L527.70,52.20 L527.00,52.80 Z M530.50,51.25 L531.20,52.20 L530.50,52.80 Z M534.00,51.25 L534.70,52.20 L534.00,52.80 Z M537.50,51.25 L538.20,52.20 L537.50,52.80 Z M541.00,51.25 L541.70,52.20 L541.00,52.80 Z M544.50,51.25 L545.20,52.20 L544.50,52.80 Z M548.00,51.25 L548.70,52.20 L548.00,52.80 Z M551.50,51.25 L552.20,52.20 L551.50,52.80 Z M555.00,51.25 L555.70,52.20 L555.00,52.80 Z M558.50,51.25 L559.20,52.20 L558.50,52.80 Z M562.00,51.25 L562.70,52.20 L562.00,52.80 Z M565.50,51.25 L566.20,52.20 L565.50,52.80 Z M569.00,51.25 L569.70,52.20 L569.00,52.80 Z M572.50,51.25 L573.20,52.20 L572.50,52.80 Z M576.00,51.25 L576.70,52.20 L576.00,52.80 Z" stroke="none" stroke-width="0" fill="#2a2a2a" opacity="0.7"/>
<path d="M494.30,136.80 h2.40 v2.40 h-2.40 Z M497.78,139.60 h2.40 v2.40 h-2.40 Z M501.26,138.10 h2.40 v2.40 h-2.40 Z M504.74,138.10 h2.40 v2.40 h-2.40 Z M508.22,138.10 h2.40 v2.40 h-2.40 Z M511.70,138.10 h2.40 v2.40 h-2.40 Z M515.18,138.10 h2.40 v2.40 h-2.40 Z M518.66,138.10 h2.40 v2.40 h-2.40 Z M522.14,138.10 h2.40 v2.40 h-2.40 Z M525.62,138.10 h2.40 v2.40 h-2.40 Z M529.10,138.10 h2.40 v2.40 h-2.40 Z M532.58,138.10 h2.40 v2.40 h-2.40 Z M536.06,138.10 h2.40 v2.40 h-2.40 Z M539.54,138.10 h2.40 v2.40 h-2.40 Z M543.02,138.10 h2.40 v2.40 h-2.40 Z M546.50,138.10 h2.40 v2.40 h-2.40 Z M549.98,138.10 h2.40 v2.40 h-2.40 Z M553.46,138.10 h2.40 v2.40 h-2.40 Z M556.94,138.10 h2.40 v2.40 h-2.40 Z M560.42,138.10 h2.40 v2.40 h-2.40 Z M563.90,138.10 h2.40 v2.40 h-2.40 Z M567.38,138.10 h2.40 v2.40 h-2.40 Z M570.86,138.10 h2.40 v2.40 h-2.40 Z M574.34,138.10 h2.40 v2.40 h-2.40 Z" stroke="#111" stroke-width="0.8" fill="none"/>
<path d="M495.50,134.80 V141.20 M493.80,134.80 h3.40 M493.80,141.20 h3.40 M498.98,137.20 V144.40 M497.28,137.20 h3.40 M497.28,144.40 h3.40 M502.46,137.50 V141.10 M500.76,137.50 h3.40 M500.76,141.10 h3.40 M505.94,137.50 V141.10 M504.24,137.50 h3.40 M504.24,141.10 h3.40 M509.42,137.50 V141.10 M507.72,137.50 h3.40 M507.72,141.10 h3.40 M512.90,137.80 V140.80 M511.20,137.80 h3.40 M511.20,140.80 h3.40 M516.38,138.10 V140.50 M514.68,138.10 h3.40 M514.68,140.50 h3.40 M519.86,138.10 V140.50 M518.16,138.10 h3.40 M518.16,140.50 h3.40 M523.34,138.10 V140.50 M521.64,138.10 h3.40 M521.64,140.50 h3.40 M526.82,138.10 V140.50 M525.12,138.10 h3.40 M525.12,140.50 h3.40 M530.30,138.10 V140.50 M528.60,138.10 h3.40 M528.60,140.50 h3.40 M533.78,138.10 V140.50 M532.08,138.10 h3.40 M532.08,140.50 h3.40 M537.26,138.10 V140.50 M535.56,138.10 h3.40 M535.56,140.50 h3.40 M540.74,138.10 V140.50 M539.04,138.10 h3.40 M539.04,140.50 h3.40 M544.22,138.10 V140.50 M542.52,138.10 h3.40 M542.52,140.50 h3.40 M547.70,138.10 V140.50 M546.00,138.10 h3.40 M546.00,140.50 h3.40 M551.18,138.10 V140.50 M549.48,138.10 h3.40 M549.48,140.50 h3.40 M554.66,138.10 V140.50 M552.96,138.10 h3.40 M552.96,140.50 h3.40 M558.14,138.10 V140.50 M556.44,138.10 h3.40 M556.44,140.50 h3.40 M561.62,138.10 V140.50 M559.92,138.10 h3.40 M559.92,140.50 h3.40 M565.10,138.10 V140.50 M563.40,138.10 h3.40 M563.40,140.50 h3.40 M568.58,138.10 V140.50 M566.88,138.10 h3.40 M566.88,140.50 h3.40 M572.06,138.10 V140.50 M570.36,138.10 h3.40 M570.36,140.50 h3.40 M575.54,138.10 V140.50 M573.84,138.10 h3.40 M573.84,140.50 h3.40" stroke="#000" stroke-width="0.55" fill="none"/>
<text x="560.30" y="207.00" font-size="6.6" textLength="21.00" lengthAdjust="spacingAndGlyphs">K<tspan font-size="4.6" dy="1.6">D</tspan><tspan dy="-1.6">: n.d.</tspan></text>
<rect x="588.30" y="41.50" width="93.70" height="170.00" fill="none" stroke="#333" stroke-width="0.9"/>
<line x1="588.30" y1="126.50" x2="682.00" y2="126.50" stroke="#333" stroke-width="0.9"/>
<line x1="588.30" y1="41.50" x2="588.30" y2="39.70" stroke="#444" stroke-width="0.6"/>
<line x1="588.30" y1="126.50" x2="588.30" y2="125.00" stroke="#444" stroke-width="0.6"/>
<text x="588.30" y="38.00" font-size="6.5" text-anchor="middle">0</text>
<line x1="617.60" y1="41.50" x2="617.60" y2="39.70" stroke="#444" stroke-width="0.6"/>
<line x1="617.60" y1="126.50" x2="617.60" y2="125.00" stroke="#444" stroke-width="0.6"/>
<text x="617.60" y="38.00" font-size="6.5" text-anchor="middle">2000</text>
<line x1="646.90" y1="41.50" x2="646.90" y2="39.70" stroke="#444" stroke-width="0.6"/>
<line x1="646.90" y1="126.50" x2="646.90" y2="125.00" stroke="#444" stroke-width="0.6"/>
<text x="646.90" y="38.00" font-size="6.5" text-anchor="middle">4000</text>
<line x1="676.20" y1="41.50" x2="676.20" y2="39.70" stroke="#444" stroke-width="0.6"/>
<line x1="676.20" y1="126.50" x2="676.20" y2="125.00" stroke="#444" stroke-width="0.6"/>
<text x="676.20" y="38.00" font-size="6.5" text-anchor="middle">6000</text>
<text x="625.20" y="30.00" font-size="6.8" textLength="20.90" lengthAdjust="spacingAndGlyphs" stroke="#000" stroke-width="0.06">time(s)</text>
<text x="608.10" y="15.90" font-size="8.4" textLength="58.10" lengthAdjust="spacingAndGlyphs">p73 homo-OD</text>
<line x1="589.00" y1="211.50" x2="589.00" y2="213.30" stroke="#444" stroke-width="0.6"/>
<text x="589.00" y="220.00" font-size="6.2" text-anchor="middle">0.0</text>
<line x1="601.20" y1="211.50" x2="601.20" y2="213.30" stroke="#444" stroke-width="0.6"/>
<text x="601.20" y="220.00" font-size="6.2" text-anchor="middle">0.1</text>
<line x1="613.40" y1="211.50" x2="613.40" y2="213.30" stroke="#444" stroke-width="0.6"/>
<text x="613.40" y="220.00" font-size="6.2" text-anchor="middle">0.2</text>
<line x1="625.60" y1="211.50" x2="625.60" y2="213.30" stroke="#444" stroke-width="0.6"/>
<text x="625.60" y="220.00" font-size="6.2" text-anchor="middle">0.3</text>
<line x1="637.80" y1="211.50" x2="637.80" y2="213.30" stroke="#444" stroke-width="0.6"/>
<text x="637.80" y="220.00" font-size="6.2" text-anchor="middle">0.4</text>
<line x1="650.00" y1="211.50" x2="650.00" y2="213.30" stroke="#444" stroke-width="0.6"/>
<text x="650.00" y="220.00" font-size="6.2" text-anchor="middle">0.5</text>
<line x1="662.20" y1="211.50" x2="662.20" y2="213.30" stroke="#444" stroke-width="0.6"/>
<text x="662.20" y="220.00" font-size="6.2" text-anchor="middle">0.6</text>
<line x1="674.40" y1="211.50" x2="674.40" y2="213.30" stroke="#444" stroke-width="0.6"/>
<text x="674.40" y="220.00" font-size="6.2" text-anchor="middle">0.7</text>
<text x="635.15" y="227.90" font-size="6.5" textLength="31.00" lengthAdjust="spacingAndGlyphs" text-anchor="middle">molar ratio</text>
<path d="M594.70,48.60 V52.70 M598.26,48.60 V52.70 M601.81,48.60 V52.70 M605.37,48.60 V52.70 M608.93,48.60 V52.70 M612.49,48.60 V52.70 M616.04,48.60 V52.70 M619.60,48.60 V52.70 M623.16,48.60 V52.70 M626.71,48.60 V52.70 M630.27,48.60 V52.70 M633.83,48.60 V52.70 M637.38,48.60 V52.70 M640.94,48.60 V52.70 M644.50,48.60 V52.70 M648.06,48.60 V52.70 M651.61,48.60 V52.70 M655.17,48.60 V52.70 M658.73,48.60 V52.70 M662.28,48.60 V52.70 M665.84,48.60 V52.70 M669.40,48.60 V52.70 M672.95,48.60 V52.70 M676.51,48.60 V52.70" stroke="#2a2a2a" stroke-width="0.9" fill="none"/>
<path d="M594.70,50.65 L595.60,52.10 L594.70,52.70 Z M598.26,50.65 L599.16,52.10 L598.26,52.70 Z M601.81,50.65 L602.71,52.10 L601.81,52.70 Z M605.37,50.65 L606.27,52.10 L605.37,52.70 Z M608.93,50.65 L609.83,52.10 L608.93,52.70 Z M612.49,50.65 L613.38,52.10 L612.49,52.70 Z M616.04,50.65 L616.94,52.10 L616.04,52.70 Z M619.60,50.65 L620.50,52.10 L619.60,52.70 Z M623.16,50.65 L624.06,52.10 L623.16,52.70 Z M626.71,50.65 L627.61,52.10 L626.71,52.70 Z M630.27,50.65 L631.17,52.10 L630.27,52.70 Z M633.83,50.65 L634.73,52.10 L633.83,52.70 Z M637.38,50.65 L638.28,52.10 L637.38,52.70 Z M640.94,50.65 L641.84,52.10 L640.94,52.70 Z M644.50,50.65 L645.40,52.10 L644.50,52.70 Z M648.06,50.65 L648.96,52.10 L648.06,52.70 Z M651.61,50.65 L652.51,52.10 L651.61,52.70 Z M655.17,50.65 L656.07,52.10 L655.17,52.70 Z M658.73,50.65 L659.63,52.10 L658.73,52.70 Z M662.28,50.65 L663.18,52.10 L662.28,52.70 Z M665.84,50.65 L666.74,52.10 L665.84,52.70 Z M669.40,50.65 L670.30,52.10 L669.40,52.70 Z M672.95,50.65 L673.85,52.10 L672.95,52.70 Z M676.51,50.65 L677.41,52.10 L676.51,52.70 Z" stroke="none" stroke-width="0" fill="#2a2a2a" opacity="0.7"/>
<path d="M592.60,133.60 h2.40 v2.40 h-2.40 Z M596.25,134.05 h2.40 v2.40 h-2.40 Z M599.90,134.00 h2.40 v2.40 h-2.40 Z M603.55,133.52 h2.40 v2.40 h-2.40 Z M607.20,133.12 h2.40 v2.40 h-2.40 Z M610.85,133.25 h2.40 v2.40 h-2.40 Z M614.50,133.76 h2.40 v2.40 h-2.40 Z M618.15,134.09 h2.40 v2.40 h-2.40 Z M621.80,133.89 h2.40 v2.40 h-2.40 Z M625.45,133.37 h2.40 v2.40 h-2.40 Z M629.10,133.10 h2.40 v2.40 h-2.40 Z M632.75,133.38 h2.40 v2.40 h-2.40 Z M636.40,133.90 h2.40 v2.40 h-2.40 Z M640.05,134.09 h2.40 v2.40 h-2.40 Z M643.70,133.75 h2.40 v2.40 h-2.40 Z M647.35,133.24 h2.40 v2.40 h-2.40 Z M651.00,133.13 h2.40 v2.40 h-2.40 Z M654.65,133.53 h2.40 v2.40 h-2.40 Z M658.30,134.01 h2.40 v2.40 h-2.40 Z M661.95,134.04 h2.40 v2.40 h-2.40 Z M665.60,133.60 h2.40 v2.40 h-2.40 Z M669.25,133.15 h2.40 v2.40 h-2.40 Z M672.90,133.20 h2.40 v2.40 h-2.40 Z M676.55,133.68 h2.40 v2.40 h-2.40 Z" stroke="#111" stroke-width="0.8" fill="none"/>
<path d="M593.80,133.60 V136.00 M592.10,133.60 h3.40 M592.10,136.00 h3.40 M597.45,134.05 V136.45 M595.75,134.05 h3.40 M595.75,136.45 h3.40 M601.10,134.00 V136.40 M599.40,134.00 h3.40 M599.40,136.40 h3.40 M604.75,133.52 V135.92 M603.05,133.52 h3.40 M603.05,135.92 h3.40 M608.40,132.12 V136.52 M606.70,132.12 h3.40 M606.70,136.52 h3.40 M612.05,133.25 V135.65 M610.35,133.25 h3.40 M610.35,135.65 h3.40 M615.70,132.96 V136.96 M614.00,132.96 h3.40 M614.00,136.96 h3.40 M619.35,134.09 V136.49 M617.65,134.09 h3.40 M617.65,136.49 h3.40 M623.00,133.89 V136.29 M621.30,133.89 h3.40 M621.30,136.29 h3.40 M626.65,132.77 V136.37 M624.95,132.77 h3.40 M624.95,136.37 h3.40 M630.30,133.10 V135.50 M628.60,133.10 h3.40 M628.60,135.50 h3.40 M633.95,132.58 V136.58 M632.25,132.58 h3.40 M632.25,136.58 h3.40 M637.60,133.10 V137.10 M635.90,133.10 h3.40 M635.90,137.10 h3.40 M641.25,134.09 V136.49 M639.55,134.09 h3.40 M639.55,136.49 h3.40 M644.90,133.75 V136.15 M643.20,133.75 h3.40 M643.20,136.15 h3.40 M648.55,133.24 V135.64 M646.85,133.24 h3.40 M646.85,135.64 h3.40 M652.20,133.13 V135.53 M650.50,133.13 h3.40 M650.50,135.53 h3.40 M655.85,133.53 V135.93 M654.15,133.53 h3.40 M654.15,135.93 h3.40 M659.50,134.01 V136.41 M657.80,134.01 h3.40 M657.80,136.41 h3.40 M663.15,134.04 V136.44 M661.45,134.04 h3.40 M661.45,136.44 h3.40 M666.80,133.60 V136.00 M665.10,133.60 h3.40 M665.10,136.00 h3.40 M670.45,133.15 V135.55 M668.75,133.15 h3.40 M668.75,135.55 h3.40 M674.10,133.20 V135.60 M672.40,133.20 h3.40 M672.40,135.60 h3.40 M677.75,133.68 V136.08 M676.05,133.68 h3.40 M676.05,136.08 h3.40" stroke="#000" stroke-width="0.55" fill="none"/>
<text x="659.00" y="207.00" font-size="6.6" textLength="21.20" lengthAdjust="spacingAndGlyphs">K<tspan font-size="4.6" dy="1.6">D</tspan><tspan dy="-1.6">: n.d.</tspan></text>
<text transform="translate(14.30,126.80) rotate(-90)" font-size="9.7" textLength="50.50" lengthAdjust="spacingAndGlyphs" text-anchor="middle">DARPin F11</text>
<text transform="translate(356.40,126.20) rotate(-90)" font-size="9.7" textLength="46.80" lengthAdjust="spacingAndGlyphs" text-anchor="middle">DARPin A2</text>
<text transform="translate(25.30,83.70) rotate(-90)" font-size="6.5" textLength="31.50" lengthAdjust="spacingAndGlyphs" text-anchor="middle">DP [µcal/s]</text>
<text transform="translate(25.30,168.40) rotate(-90)" font-size="6.5" textLength="76.00" lengthAdjust="spacingAndGlyphs" text-anchor="middle">heat of injection [kcal/mol]</text>
<text transform="translate(367.80,83.70) rotate(-90)" font-size="6.5" textLength="31.50" lengthAdjust="spacingAndGlyphs" text-anchor="middle">DP [µcal/s]</text>
<text transform="translate(367.80,168.40) rotate(-90)" font-size="6.5" textLength="76.00" lengthAdjust="spacingAndGlyphs" text-anchor="middle">heat of injection [kcal/mol]</text>
<text x="67.70" y="262.70" font-size="8.8" textLength="21.00" lengthAdjust="spacingAndGlyphs">Input</text>
<line x1="30.00" y1="265.60" x2="125.60" y2="265.60" stroke="#9a9a9a" stroke-width="1.6"/>
<text x="160.30" y="262.70" font-size="8.8" textLength="74.20" lengthAdjust="spacingAndGlyphs">PD with DARPins</text>
<line x1="146.90" y1="265.60" x2="240.80" y2="265.60" stroke="#9a9a9a" stroke-width="1.6"/>
<text transform="translate(42.50,405.90) rotate(-90)" font-size="8.9" textLength="31.60" lengthAdjust="spacingAndGlyphs">ΔNp63α</text>
<text transform="translate(157.80,406.20) rotate(-90)" font-size="8.9" textLength="31.60" lengthAdjust="spacingAndGlyphs">ΔNp63α</text>
<text transform="translate(57.90,405.90) rotate(-90)" font-size="8.9" textLength="32.00" lengthAdjust="spacingAndGlyphs">TAp73β</text>
<text transform="translate(173.20,406.20) rotate(-90)" font-size="8.9" textLength="32.00" lengthAdjust="spacingAndGlyphs">TAp73β</text>
<text transform="translate(73.50,405.90) rotate(-90)" font-size="8.9" textLength="74.20" lengthAdjust="spacingAndGlyphs">ΔNp63α + TAp73β</text>
<text transform="translate(188.80,406.20) rotate(-90)" font-size="8.9" textLength="74.20" lengthAdjust="spacingAndGlyphs">ΔNp63α + TAp73β</text>
<text transform="translate(89.30,405.90) rotate(-90)" font-size="8.9" textLength="135.20" lengthAdjust="spacingAndGlyphs">ΔNp63α K377E + TAp73β E363K</text>
<text transform="translate(204.60,406.20) rotate(-90)" font-size="8.9" textLength="135.20" lengthAdjust="spacingAndGlyphs">ΔNp63α K377E + TAp73β E363K</text>
<text transform="translate(104.60,405.90) rotate(-90)" font-size="8.9" textLength="102.60" lengthAdjust="spacingAndGlyphs">ΔNp63α + TAp73β EKER</text>
<text transform="translate(219.90,406.20) rotate(-90)" font-size="8.9" textLength="102.60" lengthAdjust="spacingAndGlyphs">ΔNp63α + TAp73β EKER</text>
<text transform="translate(121.80,405.90) rotate(-90)" font-size="8.9" textLength="61.60" lengthAdjust="spacingAndGlyphs">not transfected</text>
<text transform="translate(237.10,406.20) rotate(-90)" font-size="8.9" textLength="61.60" lengthAdjust="spacingAndGlyphs">not transfected</text>
<text x="5.60" y="405.20" font-size="8.8" textLength="16.20" lengthAdjust="spacingAndGlyphs">kDa</text>
<rect x="27.50" y="408.50" width="222.00" height="34.00" fill="#fff" stroke="#4a4a4a" stroke-width="1.0"/>
<line x1="23.80" y1="419.00" x2="27.50" y2="419.00" stroke="#333" stroke-width="0.9"/>
<line x1="23.80" y1="436.00" x2="27.50" y2="436.00" stroke="#333" stroke-width="0.9"/>
<text x="22.60" y="422.00" font-size="8.6" textLength="9.80" lengthAdjust="spacingAndGlyphs" text-anchor="end">75</text>
<text x="22.60" y="439.00" font-size="8.6" textLength="9.80" lengthAdjust="spacingAndGlyphs" text-anchor="end">50</text>
<rect x="27.50" y="445.00" width="222.00" height="34.00" fill="#fff" stroke="#4a4a4a" stroke-width="1.0"/>
<line x1="23.80" y1="456.40" x2="27.50" y2="456.40" stroke="#333" stroke-width="0.9"/>
<line x1="23.80" y1="473.40" x2="27.50" y2="473.40" stroke="#333" stroke-width="0.9"/>
<text x="22.60" y="459.40" font-size="8.6" textLength="9.80" lengthAdjust="spacingAndGlyphs" text-anchor="end">75</text>
<text x="22.60" y="476.40" font-size="8.6" textLength="9.80" lengthAdjust="spacingAndGlyphs" text-anchor="end">50</text>
<rect x="27.50" y="481.50" width="222.00" height="34.00" fill="#fff" stroke="#4a4a4a" stroke-width="1.0"/>
<line x1="23.80" y1="493.50" x2="27.50" y2="493.50" stroke="#333" stroke-width="0.9"/>
<line x1="23.80" y1="510.40" x2="27.50" y2="510.40" stroke="#333" stroke-width="0.9"/>
<text x="22.60" y="496.50" font-size="8.6" textLength="9.80" lengthAdjust="spacingAndGlyphs" text-anchor="end">75</text>
<text x="22.60" y="513.40" font-size="8.6" textLength="9.80" lengthAdjust="spacingAndGlyphs" text-anchor="end">50</text>
<rect x="35.50" y="419.40" width="10.40" height="2.60" rx="1.30" fill="#000" opacity="1.0" filter="url(#b1)"/>
<rect x="36.00" y="438.50" width="9.00" height="1.60" rx="0.80" fill="#000" opacity="0.109" filter="url(#b1)"/>
<rect x="50.30" y="428.60" width="10.00" height="2.60" rx="1.30" fill="#000" opacity="1.0" filter="url(#b1)"/>
<rect x="66.20" y="420.80" width="9.60" height="2.00" rx="1.00" fill="#000" opacity="0.172" filter="url(#b1)"/>
<rect x="66.20" y="430.20" width="9.60" height="2.00" rx="1.00" fill="#000" opacity="0.195" filter="url(#b1)"/>
<rect x="80.80" y="420.30" width="10.00" height="2.40" rx="1.20" fill="#000" opacity="0.468" filter="url(#b1)"/>
<rect x="80.80" y="429.70" width="10.00" height="2.60" rx="1.30" fill="#000" opacity="0.624" filter="url(#b1)"/>
<rect x="96.10" y="420.80" width="10.20" height="2.00" rx="1.00" fill="#000" opacity="0.172" filter="url(#b1)"/>
<rect x="96.10" y="429.30" width="10.20" height="2.20" rx="1.10" fill="#000" opacity="0.25" filter="url(#b1)"/>
<rect x="178.80" y="418.70" width="11.60" height="2.60" rx="1.30" fill="#000" opacity="0.351" filter="url(#b1)"/>
<rect x="178.80" y="427.60" width="11.60" height="2.60" rx="1.30" fill="#000" opacity="0.281" filter="url(#b1)"/>
<rect x="195.60" y="418.90" width="11.60" height="3.40" rx="1.70" fill="#000" opacity="1.0" filter="url(#b1)"/>
<rect x="195.50" y="427.00" width="11.80" height="4.60" rx="2.30" fill="#000" opacity="1.0" filter="url(#b1)"/>
<rect x="195.30" y="426.50" width="2.20" height="5.60" rx="2.80" fill="#000" opacity="1.0" filter="url(#b1)"/>
<rect x="205.30" y="426.50" width="2.20" height="5.60" rx="2.80" fill="#000" opacity="1.0" filter="url(#b1)"/>
<rect x="179.10" y="414.00" width="11.00" height="22.00" rx="11.00" fill="#000" opacity="0.05" filter="url(#b2)"/>
<rect x="195.90" y="413.00" width="11.00" height="24.00" rx="12.00" fill="#000" opacity="0.07" filter="url(#b2)"/>
<rect x="36.30" y="456.30" width="11.40" height="4.40" rx="2.20" fill="#000" opacity="1.0" filter="url(#b1)"/>
<rect x="36.50" y="476.10" width="10.00" height="1.60" rx="0.80" fill="#000" opacity="0.109" filter="url(#b1)"/>
<rect x="51.80" y="464.80" width="11.20" height="3.80" rx="1.90" fill="#000" opacity="1.0" filter="url(#b1)"/>
<rect x="67.60" y="456.80" width="10.40" height="2.20" rx="1.10" fill="#000" opacity="0.234" filter="url(#b1)"/>
<rect x="67.60" y="465.10" width="10.40" height="2.40" rx="1.20" fill="#000" opacity="0.281" filter="url(#b1)"/>
<rect x="82.70" y="456.10" width="10.80" height="2.80" rx="1.40" fill="#000" opacity="0.95" filter="url(#b1)"/>
<rect x="82.70" y="464.20" width="10.80" height="3.60" rx="1.80" fill="#000" opacity="1.0" filter="url(#b1)"/>
<rect x="98.40" y="456.60" width="10.20" height="2.20" rx="1.10" fill="#000" opacity="0.234" filter="url(#b1)"/>
<rect x="98.40" y="464.80" width="10.20" height="2.40" rx="1.20" fill="#000" opacity="0.39" filter="url(#b1)"/>
<rect x="179.60" y="457.90" width="11.40" height="2.40" rx="1.20" fill="#000" opacity="0.172" filter="url(#b1)"/>
<rect x="179.60" y="465.50" width="11.40" height="2.40" rx="1.20" fill="#000" opacity="0.195" filter="url(#b1)"/>
<rect x="195.80" y="457.80" width="12.00" height="2.60" rx="1.30" fill="#000" opacity="0.468" filter="url(#b1)"/>
<rect x="195.80" y="466.30" width="12.00" height="3.40" rx="1.70" fill="#000" opacity="1.0" filter="url(#b1)"/>
<rect x="179.80" y="451.00" width="11.00" height="22.00" rx="11.00" fill="#000" opacity="0.05" filter="url(#b2)"/>
<rect x="196.05" y="450.00" width="11.50" height="24.00" rx="12.00" fill="#000" opacity="0.08" filter="url(#b2)"/>
<rect x="36.60" y="493.50" width="11.20" height="3.40" rx="1.70" fill="#000" opacity="1.0" filter="url(#b1)"/>
<rect x="36.50" y="512.00" width="10.00" height="1.60" rx="0.80" fill="#000" opacity="0.109" filter="url(#b1)"/>
<rect x="52.00" y="502.20" width="10.60" height="2.80" rx="1.40" fill="#000" opacity="1.0" filter="url(#b1)"/>
<rect x="67.60" y="493.70" width="10.40" height="2.20" rx="1.10" fill="#000" opacity="0.203" filter="url(#b1)"/>
<rect x="67.60" y="502.20" width="10.40" height="2.20" rx="1.10" fill="#000" opacity="0.234" filter="url(#b1)"/>
<rect x="82.70" y="493.20" width="10.80" height="2.80" rx="1.40" fill="#000" opacity="0.702" filter="url(#b1)"/>
<rect x="82.70" y="501.50" width="10.80" height="3.40" rx="1.70" fill="#000" opacity="1.0" filter="url(#b1)"/>
<rect x="98.20" y="493.70" width="10.40" height="2.20" rx="1.10" fill="#000" opacity="0.203" filter="url(#b1)"/>
<rect x="98.20" y="502.10" width="10.40" height="2.40" rx="1.20" fill="#000" opacity="0.351" filter="url(#b1)"/>
<rect x="145.30" y="492.50" width="11.00" height="3.00" rx="1.50" fill="#000" opacity="0.04" filter="url(#b2)"/>
<text x="251.00" y="427.60" font-size="9.6" textLength="51.60" lengthAdjust="spacingAndGlyphs" font-weight="bold">DARPin F11</text>
<text x="251.00" y="464.40" font-size="9.6" textLength="49.20" lengthAdjust="spacingAndGlyphs" font-weight="bold">DARPin A2</text>
<text x="251.00" y="501.40" font-size="9.6" textLength="68.60" lengthAdjust="spacingAndGlyphs" font-weight="bold">control DARPin</text>
<text x="125.60" y="524.70" font-size="8.8" textLength="25.60" lengthAdjust="spacingAndGlyphs">α-Myc</text>
<text x="409.60" y="262.90" font-size="8.8" textLength="21.00" lengthAdjust="spacingAndGlyphs">Input</text>
<line x1="372.20" y1="265.70" x2="468.30" y2="265.70" stroke="#9a9a9a" stroke-width="1.6"/>
<text x="522.10" y="262.70" font-size="8.8" textLength="83.20" lengthAdjust="spacingAndGlyphs">PD with DARPin A2</text>
<line x1="514.90" y1="265.80" x2="610.10" y2="265.80" stroke="#9a9a9a" stroke-width="1.6"/>
<text transform="translate(384.10,290.10) rotate(-90)" font-size="8.7" textLength="9.30" lengthAdjust="spacingAndGlyphs">0h</text>
<text transform="translate(399.40,290.10) rotate(-90)" font-size="8.7" textLength="14.00" lengthAdjust="spacingAndGlyphs">24h</text>
<text transform="translate(414.00,290.10) rotate(-90)" font-size="8.7" textLength="14.00" lengthAdjust="spacingAndGlyphs">48h</text>
<text transform="translate(429.10,290.10) rotate(-90)" font-size="8.7" textLength="14.00" lengthAdjust="spacingAndGlyphs">72h</text>
<text transform="translate(444.00,290.10) rotate(-90)" font-size="8.7" textLength="14.00" lengthAdjust="spacingAndGlyphs">96h</text>
<text transform="translate(459.30,290.10) rotate(-90)" font-size="8.7" textLength="19.50" lengthAdjust="spacingAndGlyphs">168h</text>
<text transform="translate(526.10,290.10) rotate(-90)" font-size="8.7" textLength="9.30" lengthAdjust="spacingAndGlyphs">0h</text>
<text transform="translate(541.90,290.10) rotate(-90)" font-size="8.7" textLength="14.00" lengthAdjust="spacingAndGlyphs">24h</text>
<text transform="translate(557.90,290.10) rotate(-90)" font-size="8.7" textLength="14.00" lengthAdjust="spacingAndGlyphs">48h</text>
<text transform="translate(572.50,290.10) rotate(-90)" font-size="8.7" textLength="14.00" lengthAdjust="spacingAndGlyphs">72h</text>
<text transform="translate(588.60,290.10) rotate(-90)" font-size="8.7" textLength="14.00" lengthAdjust="spacingAndGlyphs">96h</text>
<text transform="translate(603.50,290.10) rotate(-90)" font-size="8.7" textLength="19.50" lengthAdjust="spacingAndGlyphs">168h</text>
<text x="348.90" y="289.70" font-size="8.8" textLength="16.30" lengthAdjust="spacingAndGlyphs">kDa</text>
<text x="490.80" y="289.70" font-size="8.8" textLength="16.30" lengthAdjust="spacingAndGlyphs">kDa</text>
<line x1="366.30" y1="304.40" x2="370.30" y2="304.40" stroke="#333" stroke-width="0.8"/>
<text x="365.50" y="307.40" font-size="8.6" textLength="9.80" lengthAdjust="spacingAndGlyphs" text-anchor="end">75</text>
<line x1="366.30" y1="325.80" x2="370.30" y2="325.80" stroke="#333" stroke-width="0.8"/>
<text x="365.50" y="328.80" font-size="8.6" textLength="9.80" lengthAdjust="spacingAndGlyphs" text-anchor="end">50</text>
<line x1="366.30" y1="341.40" x2="370.30" y2="341.40" stroke="#333" stroke-width="0.8"/>
<text x="365.50" y="344.40" font-size="8.6" textLength="9.80" lengthAdjust="spacingAndGlyphs" text-anchor="end">75</text>
<line x1="366.30" y1="362.30" x2="370.30" y2="362.30" stroke="#333" stroke-width="0.8"/>
<text x="365.50" y="365.30" font-size="8.6" textLength="9.80" lengthAdjust="spacingAndGlyphs" text-anchor="end">50</text>
<line x1="508.50" y1="304.30" x2="512.50" y2="304.30" stroke="#333" stroke-width="0.8"/>
<text x="507.70" y="307.30" font-size="8.6" textLength="9.80" lengthAdjust="spacingAndGlyphs" text-anchor="end">75</text>
<line x1="508.50" y1="325.50" x2="512.50" y2="325.50" stroke="#333" stroke-width="0.8"/>
<text x="507.70" y="328.50" font-size="8.6" textLength="9.80" lengthAdjust="spacingAndGlyphs" text-anchor="end">50</text>
<line x1="508.50" y1="341.50" x2="512.50" y2="341.50" stroke="#333" stroke-width="0.8"/>
<text x="507.70" y="344.50" font-size="8.6" textLength="9.80" lengthAdjust="spacingAndGlyphs" text-anchor="end">75</text>
<line x1="508.50" y1="362.10" x2="512.50" y2="362.10" stroke="#333" stroke-width="0.8"/>
<text x="507.70" y="365.10" font-size="8.6" textLength="9.80" lengthAdjust="spacingAndGlyphs" text-anchor="end">50</text>
<rect x="370.3" y="292.6" width="99.3" height="34.2" fill="url(#gDin1)"/>
<rect x="370.3" y="336.3" width="99.3" height="34.0" fill="#cdcdcd"/>
<rect x="512.4" y="292.6" width="99.4" height="34.1" fill="#ececec"/>
<rect x="512.4" y="336.3" width="99.4" height="34.0" fill="#e6e6e6"/>
<rect x="376.70" y="307.20" width="10.00" height="3.20" rx="1.60" fill="#000" opacity="0.156" filter="url(#bd)"/>
<rect x="391.10" y="307.20" width="10.00" height="3.20" rx="1.60" fill="#000" opacity="0.663" filter="url(#bd)"/>
<rect x="405.70" y="306.60" width="10.60" height="4.40" rx="2.20" fill="#000" opacity="1.0" filter="url(#bd)"/>
<rect x="421.00" y="306.60" width="10.60" height="4.40" rx="2.20" fill="#000" opacity="1.0" filter="url(#bd)"/>
<rect x="436.80" y="307.20" width="10.00" height="3.20" rx="1.60" fill="#000" opacity="0.686" filter="url(#bd)"/>
<rect x="452.60" y="307.20" width="10.00" height="3.20" rx="1.60" fill="#000" opacity="0.718" filter="url(#bd)"/>
<rect x="376.70" y="316.30" width="10.00" height="4.00" rx="2.00" fill="#000" opacity="0.04" filter="url(#b2)"/>
<rect x="391.10" y="316.30" width="10.00" height="4.00" rx="2.00" fill="#000" opacity="0.11" filter="url(#b2)"/>
<rect x="406.00" y="316.30" width="10.00" height="4.00" rx="2.00" fill="#000" opacity="0.13" filter="url(#b2)"/>
<rect x="421.30" y="316.30" width="10.00" height="4.00" rx="2.00" fill="#000" opacity="0.16" filter="url(#b2)"/>
<rect x="436.80" y="316.30" width="10.00" height="4.00" rx="2.00" fill="#000" opacity="0.13" filter="url(#b2)"/>
<rect x="452.60" y="316.30" width="10.00" height="4.00" rx="2.00" fill="#000" opacity="0.1" filter="url(#b2)"/>
<rect x="379.40" y="352.90" width="8.00" height="3.40" rx="1.70" fill="#000" opacity="0.125" filter="url(#bd)"/>
<rect x="393.80" y="352.90" width="8.00" height="3.40" rx="1.70" fill="#000" opacity="0.133" filter="url(#bd)"/>
<rect x="407.70" y="352.30" width="9.80" height="4.60" rx="2.30" fill="#000" opacity="1.0" filter="url(#bd)"/>
<rect x="423.30" y="352.30" width="9.80" height="4.60" rx="2.30" fill="#000" opacity="1.0" filter="url(#bd)"/>
<rect x="439.20" y="352.30" width="9.00" height="4.60" rx="2.30" fill="#000" opacity="0.96" filter="url(#bd)"/>
<rect x="455.80" y="352.90" width="8.00" height="3.40" rx="1.70" fill="#000" opacity="0.109" filter="url(#bd)"/>
<rect x="518.10" y="293.50" width="11.00" height="32.00" rx="16.00" fill="#000" opacity="0.035" filter="url(#b2)"/>
<rect x="534.50" y="293.50" width="11.00" height="32.00" rx="16.00" fill="#000" opacity="0.035" filter="url(#b2)"/>
<rect x="550.60" y="293.50" width="11.00" height="32.00" rx="16.00" fill="#000" opacity="0.035" filter="url(#b2)"/>
<rect x="565.40" y="293.50" width="11.00" height="32.00" rx="16.00" fill="#000" opacity="0.035" filter="url(#b2)"/>
<rect x="580.80" y="293.50" width="11.00" height="32.00" rx="16.00" fill="#000" opacity="0.035" filter="url(#b2)"/>
<rect x="595.70" y="293.50" width="11.00" height="32.00" rx="16.00" fill="#000" opacity="0.035" filter="url(#b2)"/>
<rect x="518.10" y="318.30" width="11.00" height="5.00" rx="2.50" fill="#000" opacity="0.08" filter="url(#b2)"/>
<rect x="534.50" y="318.30" width="11.00" height="5.00" rx="2.50" fill="#000" opacity="0.1" filter="url(#b2)"/>
<rect x="550.60" y="318.30" width="11.00" height="5.00" rx="2.50" fill="#000" opacity="0.12" filter="url(#b2)"/>
<rect x="565.40" y="318.30" width="11.00" height="5.00" rx="2.50" fill="#000" opacity="0.13" filter="url(#b2)"/>
<rect x="580.80" y="318.30" width="11.00" height="5.00" rx="2.50" fill="#000" opacity="0.09" filter="url(#b2)"/>
<rect x="595.70" y="318.30" width="11.00" height="5.00" rx="2.50" fill="#000" opacity="0.08" filter="url(#b2)"/>
<rect x="518.60" y="307.50" width="10.00" height="3.00" rx="1.50" fill="#000" opacity="0.023" filter="url(#bd)"/>
<rect x="535.00" y="307.50" width="10.00" height="3.00" rx="1.50" fill="#000" opacity="0.078" filter="url(#bd)"/>
<rect x="550.70" y="307.20" width="10.80" height="3.60" rx="1.80" fill="#000" opacity="1.0" filter="url(#bd)"/>
<rect x="565.50" y="307.20" width="10.80" height="3.60" rx="1.80" fill="#000" opacity="1.0" filter="url(#bd)"/>
<rect x="581.30" y="307.50" width="10.00" height="3.00" rx="1.50" fill="#000" opacity="0.172" filter="url(#bd)"/>
<rect x="596.20" y="307.50" width="10.00" height="3.00" rx="1.50" fill="#000" opacity="0.125" filter="url(#bd)"/>
<rect x="517.85" y="337.50" width="11.50" height="32.00" rx="16.00" fill="#000" opacity="0.05" filter="url(#b2)"/>
<rect x="534.25" y="337.50" width="11.50" height="32.00" rx="16.00" fill="#000" opacity="0.05" filter="url(#b2)"/>
<rect x="550.35" y="337.50" width="11.50" height="32.00" rx="16.00" fill="#000" opacity="0.05" filter="url(#b2)"/>
<rect x="565.15" y="337.50" width="11.50" height="32.00" rx="16.00" fill="#000" opacity="0.05" filter="url(#b2)"/>
<rect x="580.55" y="337.50" width="11.50" height="32.00" rx="16.00" fill="#000" opacity="0.05" filter="url(#b2)"/>
<rect x="595.45" y="337.50" width="11.50" height="32.00" rx="16.00" fill="#000" opacity="0.05" filter="url(#b2)"/>
<rect x="518.10" y="359.00" width="11.00" height="4.00" rx="2.00" fill="#000" opacity="0.1" filter="url(#b2)"/>
<rect x="534.50" y="359.00" width="11.00" height="4.00" rx="2.00" fill="#000" opacity="0.08" filter="url(#b2)"/>
<rect x="550.60" y="359.00" width="11.00" height="4.00" rx="2.00" fill="#000" opacity="0.1" filter="url(#b2)"/>
<rect x="565.40" y="359.00" width="11.00" height="4.00" rx="2.00" fill="#000" opacity="0.06" filter="url(#b2)"/>
<rect x="580.80" y="359.00" width="11.00" height="4.00" rx="2.00" fill="#000" opacity="0.05" filter="url(#b2)"/>
<rect x="595.70" y="359.00" width="11.00" height="4.00" rx="2.00" fill="#000" opacity="0.05" filter="url(#b2)"/>
<rect x="518.60" y="351.70" width="10.00" height="3.20" rx="1.60" fill="#000" opacity="0.094" filter="url(#bd)"/>
<rect x="534.80" y="351.70" width="10.00" height="3.20" rx="1.60" fill="#000" opacity="0.078" filter="url(#bd)"/>
<rect x="549.70" y="351.40" width="10.60" height="3.80" rx="1.90" fill="#000" opacity="1.0" filter="url(#bd)"/>
<rect x="565.40" y="351.40" width="10.60" height="3.80" rx="1.90" fill="#000" opacity="0.95" filter="url(#bd)"/>
<rect x="581.00" y="351.70" width="10.60" height="3.20" rx="1.60" fill="#000" opacity="0.273" filter="url(#bd)"/>
<rect x="596.30" y="351.70" width="11.00" height="3.20" rx="1.60" fill="#000" opacity="0.234" filter="url(#bd)"/>
<rect x="370.30" y="292.60" width="99.30" height="34.20" fill="none" stroke="#222" stroke-width="0.9"/>
<rect x="370.30" y="336.30" width="99.30" height="34.00" fill="none" stroke="#222" stroke-width="0.9"/>
<rect x="512.40" y="292.60" width="99.40" height="34.20" fill="none" stroke="#222" stroke-width="0.9"/>
<rect x="512.40" y="336.30" width="99.40" height="34.00" fill="none" stroke="#222" stroke-width="0.9"/>
<text x="613.60" y="312.00" font-size="8.3" textLength="13.60" lengthAdjust="spacingAndGlyphs">p63</text>
<text x="613.60" y="357.50" font-size="8.3" textLength="13.60" lengthAdjust="spacingAndGlyphs">p73</text>
<text x="399.10" y="379.60" font-size="8.3" textLength="42.20" lengthAdjust="spacingAndGlyphs">α-pan p63</text>
<text x="399.10" y="389.80" font-size="8.3" textLength="42.20" lengthAdjust="spacingAndGlyphs">α-pan p73</text>
<text x="541.20" y="379.60" font-size="8.3" textLength="42.20" lengthAdjust="spacingAndGlyphs">α-pan p63</text>
<text x="541.20" y="389.80" font-size="8.3" textLength="42.20" lengthAdjust="spacingAndGlyphs">α-pan p73</text>
</g></svg>
</body></html>
